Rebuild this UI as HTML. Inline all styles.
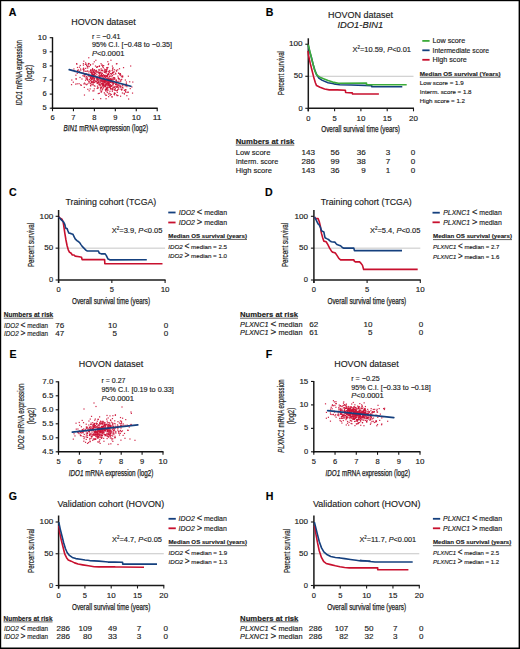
<!DOCTYPE html>
<html><head><meta charset="utf-8"><style>
html,body{margin:0;padding:0;background:#fff;}
svg{display:block;font-family:"Liberation Sans", sans-serif;}
text{stroke:#1b1b1b;stroke-width:0.15px;}
</style></head><body>
<svg width="520" height="649" viewBox="0 0 520 649" fill="#1b1b1b">
<rect x="0" y="0" width="520" height="649" fill="#fff"/>
<rect x="0" y="0" width="1.2" height="649" fill="#000"/>
<rect x="0" y="0" width="520" height="1.2" fill="#000"/>
<rect x="518.6" y="0" width="1.4" height="649" fill="#000"/>
<rect x="0" y="647.5" width="520" height="1.5" fill="#000"/>
<text x="8.80" y="15.80" font-size="10.6" font-weight="bold" fill="#000">A</text>
<text x="71.25" y="25.00" font-size="9" textLength="64.40" lengthAdjust="spacingAndGlyphs">HOVON dataset</text>
<text x="91.90" y="38.70" font-size="7" textLength="28.50" lengthAdjust="spacingAndGlyphs">r = −0.41</text>
<text x="91.90" y="46.90" font-size="7" textLength="80.00" lengthAdjust="spacingAndGlyphs">95% C.I. [−0.48 to −0.35]</text>
<text x="91.90" y="55.60" font-size="7" textLength="32.50" lengthAdjust="spacingAndGlyphs"><tspan font-style="italic">P</tspan>&lt;0.0001</text>
<line x1="52.50" y1="37.20" x2="52.50" y2="108.90" stroke="#111" stroke-width="1.4"/>
<line x1="51.80" y1="108.20" x2="157.70" y2="108.20" stroke="#111" stroke-width="1.4"/>
<line x1="49.70" y1="108.20" x2="52.50" y2="108.20" stroke="#111" stroke-width="1.1"/>
<text x="46.60" y="110.30" font-size="7" text-anchor="end" textLength="4.20" lengthAdjust="spacingAndGlyphs">5</text>
<line x1="49.70" y1="94.10" x2="52.50" y2="94.10" stroke="#111" stroke-width="1.1"/>
<text x="46.60" y="96.20" font-size="7" text-anchor="end" textLength="4.20" lengthAdjust="spacingAndGlyphs">6</text>
<line x1="49.70" y1="80.00" x2="52.50" y2="80.00" stroke="#111" stroke-width="1.1"/>
<text x="46.60" y="82.10" font-size="7" text-anchor="end" textLength="4.20" lengthAdjust="spacingAndGlyphs">7</text>
<line x1="49.70" y1="65.90" x2="52.50" y2="65.90" stroke="#111" stroke-width="1.1"/>
<text x="46.60" y="68.00" font-size="7" text-anchor="end" textLength="4.20" lengthAdjust="spacingAndGlyphs">8</text>
<line x1="49.70" y1="51.80" x2="52.50" y2="51.80" stroke="#111" stroke-width="1.1"/>
<text x="46.60" y="53.90" font-size="7" text-anchor="end" textLength="4.20" lengthAdjust="spacingAndGlyphs">9</text>
<line x1="49.70" y1="37.70" x2="52.50" y2="37.70" stroke="#111" stroke-width="1.1"/>
<text x="46.60" y="39.80" font-size="7" text-anchor="end" textLength="8.90" lengthAdjust="spacingAndGlyphs">10</text>
<line x1="52.50" y1="108.20" x2="52.50" y2="111.20" stroke="#111" stroke-width="1.1"/>
<text x="52.50" y="120.20" font-size="7" text-anchor="middle" textLength="4.20" lengthAdjust="spacingAndGlyphs">6</text>
<line x1="73.44" y1="108.20" x2="73.44" y2="111.20" stroke="#111" stroke-width="1.1"/>
<text x="73.44" y="120.20" font-size="7" text-anchor="middle" textLength="4.20" lengthAdjust="spacingAndGlyphs">7</text>
<line x1="94.38" y1="108.20" x2="94.38" y2="111.20" stroke="#111" stroke-width="1.1"/>
<text x="94.38" y="120.20" font-size="7" text-anchor="middle" textLength="4.20" lengthAdjust="spacingAndGlyphs">8</text>
<line x1="115.32" y1="108.20" x2="115.32" y2="111.20" stroke="#111" stroke-width="1.1"/>
<text x="115.32" y="120.20" font-size="7" text-anchor="middle" textLength="4.20" lengthAdjust="spacingAndGlyphs">9</text>
<line x1="136.26" y1="108.20" x2="136.26" y2="111.20" stroke="#111" stroke-width="1.1"/>
<text x="136.26" y="120.20" font-size="7" text-anchor="middle" textLength="8.90" lengthAdjust="spacingAndGlyphs">10</text>
<line x1="157.20" y1="108.20" x2="157.20" y2="111.20" stroke="#111" stroke-width="1.1"/>
<text x="157.20" y="120.20" font-size="7" text-anchor="middle" textLength="8.90" lengthAdjust="spacingAndGlyphs">11</text>
<text x="63.40" y="131.30" font-size="8.4" textLength="84.70" lengthAdjust="spacingAndGlyphs" style="stroke-width:0.25px"><tspan font-style="italic">BIN1</tspan> mRNA expression (log2)</text>
<text transform="translate(21.70,72.80) rotate(-90)" x="0" y="0" font-size="8.2" text-anchor="middle" style="stroke-width:0.2px" textLength="65.20" lengthAdjust="spacingAndGlyphs"><tspan font-style="italic">IDO1</tspan> mRNA expression</text>
<text transform="translate(32.00,73.10) rotate(-90)" x="0" y="0" font-size="8.2" text-anchor="middle" style="stroke-width:0.2px" textLength="16.20" lengthAdjust="spacingAndGlyphs">(log2)</text>
<g fill="#cc1236" fill-opacity="0.9"><rect x="110.00" y="87.95" width="1.2" height="1.2"/><rect x="92.73" y="75.02" width="1.2" height="1.2"/><rect x="99.53" y="78.05" width="1.2" height="1.2"/><rect x="107.32" y="81.76" width="1.2" height="1.2"/><rect x="105.38" y="75.95" width="1.2" height="1.2"/><rect x="84.82" y="63.79" width="1.2" height="1.2"/><rect x="70.94" y="84.05" width="1.2" height="1.2"/><rect x="107.08" y="76.35" width="1.2" height="1.2"/><rect x="108.09" y="83.88" width="1.2" height="1.2"/><rect x="109.34" y="90.65" width="1.2" height="1.2"/><rect x="89.75" y="82.95" width="1.2" height="1.2"/><rect x="108.07" y="81.91" width="1.2" height="1.2"/><rect x="91.14" y="79.01" width="1.2" height="1.2"/><rect x="90.74" y="77.77" width="1.2" height="1.2"/><rect x="99.00" y="72.12" width="1.2" height="1.2"/><rect x="73.32" y="68.39" width="1.2" height="1.2"/><rect x="92.85" y="98.77" width="1.2" height="1.2"/><rect x="87.17" y="79.71" width="1.2" height="1.2"/><rect x="99.47" y="78.22" width="1.2" height="1.2"/><rect x="103.89" y="68.58" width="1.2" height="1.2"/><rect x="93.72" y="88.27" width="1.2" height="1.2"/><rect x="88.43" y="70.75" width="1.2" height="1.2"/><rect x="115.69" y="79.30" width="1.2" height="1.2"/><rect x="120.40" y="88.53" width="1.2" height="1.2"/><rect x="125.54" y="84.48" width="1.2" height="1.2"/><rect x="90.76" y="81.56" width="1.2" height="1.2"/><rect x="96.28" y="78.11" width="1.2" height="1.2"/><rect x="116.71" y="86.44" width="1.2" height="1.2"/><rect x="102.53" y="84.85" width="1.2" height="1.2"/><rect x="114.31" y="86.48" width="1.2" height="1.2"/><rect x="119.54" y="73.32" width="1.2" height="1.2"/><rect x="99.74" y="86.59" width="1.2" height="1.2"/><rect x="119.26" y="73.52" width="1.2" height="1.2"/><rect x="105.32" y="83.55" width="1.2" height="1.2"/><rect x="88.60" y="75.92" width="1.2" height="1.2"/><rect x="111.75" y="81.58" width="1.2" height="1.2"/><rect x="78.89" y="66.60" width="1.2" height="1.2"/><rect x="82.48" y="72.41" width="1.2" height="1.2"/><rect x="127.61" y="91.59" width="1.2" height="1.2"/><rect x="118.12" y="72.68" width="1.2" height="1.2"/><rect x="98.49" y="79.49" width="1.2" height="1.2"/><rect x="106.70" y="81.24" width="1.2" height="1.2"/><rect x="106.69" y="84.67" width="1.2" height="1.2"/><rect x="107.54" y="80.29" width="1.2" height="1.2"/><rect x="100.85" y="79.50" width="1.2" height="1.2"/><rect x="96.23" y="74.16" width="1.2" height="1.2"/><rect x="96.72" y="81.99" width="1.2" height="1.2"/><rect x="118.89" y="68.12" width="1.2" height="1.2"/><rect x="96.31" y="77.61" width="1.2" height="1.2"/><rect x="97.92" y="81.58" width="1.2" height="1.2"/><rect x="103.82" y="80.80" width="1.2" height="1.2"/><rect x="94.40" y="75.92" width="1.2" height="1.2"/><rect x="117.46" y="84.68" width="1.2" height="1.2"/><rect x="114.98" y="72.65" width="1.2" height="1.2"/><rect x="98.19" y="80.43" width="1.2" height="1.2"/><rect x="77.84" y="69.35" width="1.2" height="1.2"/><rect x="105.16" y="90.34" width="1.2" height="1.2"/><rect x="115.97" y="70.62" width="1.2" height="1.2"/><rect x="101.74" y="72.82" width="1.2" height="1.2"/><rect x="100.24" y="79.89" width="1.2" height="1.2"/><rect x="100.92" y="83.02" width="1.2" height="1.2"/><rect x="115.47" y="80.01" width="1.2" height="1.2"/><rect x="103.59" y="83.41" width="1.2" height="1.2"/><rect x="105.95" y="87.83" width="1.2" height="1.2"/><rect x="110.07" y="73.02" width="1.2" height="1.2"/><rect x="104.01" y="76.03" width="1.2" height="1.2"/><rect x="120.77" y="76.12" width="1.2" height="1.2"/><rect x="93.43" y="77.19" width="1.2" height="1.2"/><rect x="89.55" y="88.30" width="1.2" height="1.2"/><rect x="90.80" y="80.85" width="1.2" height="1.2"/><rect x="101.01" y="73.55" width="1.2" height="1.2"/><rect x="113.73" y="92.44" width="1.2" height="1.2"/><rect x="116.57" y="95.00" width="1.2" height="1.2"/><rect x="95.02" y="70.51" width="1.2" height="1.2"/><rect x="103.84" y="80.31" width="1.2" height="1.2"/><rect x="91.99" y="67.94" width="1.2" height="1.2"/><rect x="75.63" y="78.43" width="1.2" height="1.2"/><rect x="104.70" y="85.62" width="1.2" height="1.2"/><rect x="103.11" y="86.97" width="1.2" height="1.2"/><rect x="97.59" y="79.13" width="1.2" height="1.2"/><rect x="92.70" y="83.54" width="1.2" height="1.2"/><rect x="113.14" y="76.92" width="1.2" height="1.2"/><rect x="84.61" y="73.99" width="1.2" height="1.2"/><rect x="115.74" y="83.54" width="1.2" height="1.2"/><rect x="118.48" y="83.50" width="1.2" height="1.2"/><rect x="85.92" y="76.03" width="1.2" height="1.2"/><rect x="94.38" y="85.59" width="1.2" height="1.2"/><rect x="103.66" y="75.42" width="1.2" height="1.2"/><rect x="102.49" y="85.57" width="1.2" height="1.2"/><rect x="83.88" y="73.39" width="1.2" height="1.2"/><rect x="113.91" y="77.34" width="1.2" height="1.2"/><rect x="85.11" y="73.89" width="1.2" height="1.2"/><rect x="85.37" y="77.31" width="1.2" height="1.2"/><rect x="120.44" y="79.17" width="1.2" height="1.2"/><rect x="111.44" y="79.07" width="1.2" height="1.2"/><rect x="124.77" y="79.43" width="1.2" height="1.2"/><rect x="109.40" y="85.23" width="1.2" height="1.2"/><rect x="102.61" y="81.27" width="1.2" height="1.2"/><rect x="108.03" y="63.23" width="1.2" height="1.2"/><rect x="99.17" y="69.50" width="1.2" height="1.2"/><rect x="119.82" y="73.16" width="1.2" height="1.2"/><rect x="111.05" y="79.47" width="1.2" height="1.2"/><rect x="125.92" y="84.26" width="1.2" height="1.2"/><rect x="91.02" y="78.81" width="1.2" height="1.2"/><rect x="105.03" y="84.51" width="1.2" height="1.2"/><rect x="118.13" y="84.43" width="1.2" height="1.2"/><rect x="113.52" y="82.74" width="1.2" height="1.2"/><rect x="97.15" y="77.25" width="1.2" height="1.2"/><rect x="110.35" y="59.65" width="1.2" height="1.2"/><rect x="102.11" y="80.50" width="1.2" height="1.2"/><rect x="101.43" y="82.95" width="1.2" height="1.2"/><rect x="121.97" y="76.13" width="1.2" height="1.2"/><rect x="114.30" y="92.86" width="1.2" height="1.2"/><rect x="100.48" y="74.98" width="1.2" height="1.2"/><rect x="98.26" y="71.99" width="1.2" height="1.2"/><rect x="114.19" y="78.90" width="1.2" height="1.2"/><rect x="123.64" y="92.79" width="1.2" height="1.2"/><rect x="108.82" y="75.67" width="1.2" height="1.2"/><rect x="79.95" y="68.39" width="1.2" height="1.2"/><rect x="109.96" y="86.21" width="1.2" height="1.2"/><rect x="106.52" y="82.25" width="1.2" height="1.2"/><rect x="104.72" y="84.43" width="1.2" height="1.2"/><rect x="102.84" y="74.11" width="1.2" height="1.2"/><rect x="107.44" y="87.11" width="1.2" height="1.2"/><rect x="102.39" y="79.94" width="1.2" height="1.2"/><rect x="93.52" y="74.82" width="1.2" height="1.2"/><rect x="107.82" y="78.80" width="1.2" height="1.2"/><rect x="87.03" y="78.74" width="1.2" height="1.2"/><rect x="88.97" y="81.38" width="1.2" height="1.2"/><rect x="113.75" y="81.13" width="1.2" height="1.2"/><rect x="96.89" y="66.11" width="1.2" height="1.2"/><rect x="99.62" y="80.41" width="1.2" height="1.2"/><rect x="115.72" y="86.69" width="1.2" height="1.2"/><rect x="104.36" y="81.56" width="1.2" height="1.2"/><rect x="115.17" y="73.41" width="1.2" height="1.2"/><rect x="102.77" y="83.94" width="1.2" height="1.2"/><rect x="109.84" y="88.40" width="1.2" height="1.2"/><rect x="125.79" y="81.43" width="1.2" height="1.2"/><rect x="102.10" y="79.03" width="1.2" height="1.2"/><rect x="90.27" y="76.74" width="1.2" height="1.2"/><rect x="101.36" y="78.60" width="1.2" height="1.2"/><rect x="110.06" y="84.18" width="1.2" height="1.2"/><rect x="109.97" y="81.66" width="1.2" height="1.2"/><rect x="91.44" y="72.21" width="1.2" height="1.2"/><rect x="89.83" y="64.56" width="1.2" height="1.2"/><rect x="92.54" y="80.93" width="1.2" height="1.2"/><rect x="114.22" y="92.78" width="1.2" height="1.2"/><rect x="125.19" y="89.31" width="1.2" height="1.2"/><rect x="86.03" y="64.85" width="1.2" height="1.2"/><rect x="112.13" y="89.24" width="1.2" height="1.2"/><rect x="113.86" y="69.16" width="1.2" height="1.2"/><rect x="76.05" y="63.00" width="1.2" height="1.2"/><rect x="98.76" y="72.33" width="1.2" height="1.2"/><rect x="108.09" y="84.61" width="1.2" height="1.2"/><rect x="108.29" y="73.97" width="1.2" height="1.2"/><rect x="87.09" y="65.89" width="1.2" height="1.2"/><rect x="124.69" y="85.22" width="1.2" height="1.2"/><rect x="84.53" y="73.88" width="1.2" height="1.2"/><rect x="121.04" y="89.37" width="1.2" height="1.2"/><rect x="108.70" y="82.70" width="1.2" height="1.2"/><rect x="108.08" y="93.44" width="1.2" height="1.2"/><rect x="88.23" y="75.38" width="1.2" height="1.2"/><rect x="92.43" y="63.33" width="1.2" height="1.2"/><rect x="98.78" y="75.33" width="1.2" height="1.2"/><rect x="101.98" y="88.58" width="1.2" height="1.2"/><rect x="100.90" y="78.11" width="1.2" height="1.2"/><rect x="100.57" y="87.21" width="1.2" height="1.2"/><rect x="97.01" y="71.34" width="1.2" height="1.2"/><rect x="86.62" y="76.67" width="1.2" height="1.2"/><rect x="107.10" y="77.72" width="1.2" height="1.2"/><rect x="104.56" y="78.88" width="1.2" height="1.2"/><rect x="116.32" y="63.06" width="1.2" height="1.2"/><rect x="101.24" y="84.21" width="1.2" height="1.2"/><rect x="106.42" y="90.54" width="1.2" height="1.2"/><rect x="77.01" y="69.83" width="1.2" height="1.2"/><rect x="106.97" y="73.73" width="1.2" height="1.2"/><rect x="99.37" y="72.35" width="1.2" height="1.2"/><rect x="99.17" y="78.19" width="1.2" height="1.2"/><rect x="91.04" y="76.17" width="1.2" height="1.2"/><rect x="107.63" y="84.53" width="1.2" height="1.2"/><rect x="102.68" y="78.68" width="1.2" height="1.2"/><rect x="105.75" y="76.27" width="1.2" height="1.2"/><rect x="95.24" y="59.68" width="1.2" height="1.2"/><rect x="95.19" y="81.22" width="1.2" height="1.2"/><rect x="90.83" y="71.63" width="1.2" height="1.2"/><rect x="101.69" y="81.27" width="1.2" height="1.2"/><rect x="106.14" y="75.71" width="1.2" height="1.2"/><rect x="102.44" y="85.40" width="1.2" height="1.2"/><rect x="106.85" y="87.51" width="1.2" height="1.2"/><rect x="119.43" y="73.47" width="1.2" height="1.2"/><rect x="127.76" y="75.60" width="1.2" height="1.2"/><rect x="101.53" y="76.08" width="1.2" height="1.2"/><rect x="79.41" y="76.88" width="1.2" height="1.2"/><rect x="101.37" y="81.17" width="1.2" height="1.2"/><rect x="112.22" y="88.24" width="1.2" height="1.2"/><rect x="97.36" y="86.84" width="1.2" height="1.2"/><rect x="101.05" y="90.56" width="1.2" height="1.2"/><rect x="92.66" y="74.17" width="1.2" height="1.2"/><rect x="105.63" y="83.22" width="1.2" height="1.2"/><rect x="92.22" y="76.26" width="1.2" height="1.2"/><rect x="116.03" y="82.38" width="1.2" height="1.2"/><rect x="103.79" y="81.70" width="1.2" height="1.2"/><rect x="107.98" y="82.78" width="1.2" height="1.2"/><rect x="82.73" y="68.33" width="1.2" height="1.2"/><rect x="89.66" y="79.90" width="1.2" height="1.2"/><rect x="93.02" y="81.60" width="1.2" height="1.2"/><rect x="97.71" y="92.97" width="1.2" height="1.2"/><rect x="87.75" y="74.77" width="1.2" height="1.2"/><rect x="104.50" y="85.88" width="1.2" height="1.2"/><rect x="93.27" y="80.24" width="1.2" height="1.2"/><rect x="117.12" y="69.24" width="1.2" height="1.2"/><rect x="116.23" y="84.51" width="1.2" height="1.2"/><rect x="83.47" y="75.62" width="1.2" height="1.2"/><rect x="83.94" y="82.47" width="1.2" height="1.2"/><rect x="122.94" y="67.03" width="1.2" height="1.2"/><rect x="106.43" y="82.16" width="1.2" height="1.2"/><rect x="88.16" y="57.16" width="1.2" height="1.2"/><rect x="87.63" y="63.70" width="1.2" height="1.2"/><rect x="98.51" y="77.10" width="1.2" height="1.2"/><rect x="105.46" y="98.15" width="1.2" height="1.2"/><rect x="99.90" y="82.30" width="1.2" height="1.2"/><rect x="91.85" y="69.10" width="1.2" height="1.2"/><rect x="112.29" y="84.67" width="1.2" height="1.2"/><rect x="94.57" y="80.58" width="1.2" height="1.2"/><rect x="112.94" y="82.20" width="1.2" height="1.2"/><rect x="119.74" y="80.55" width="1.2" height="1.2"/><rect x="91.97" y="77.02" width="1.2" height="1.2"/><rect x="115.99" y="80.30" width="1.2" height="1.2"/><rect x="112.85" y="82.67" width="1.2" height="1.2"/><rect x="92.64" y="79.33" width="1.2" height="1.2"/><rect x="110.37" y="78.37" width="1.2" height="1.2"/><rect x="96.69" y="82.64" width="1.2" height="1.2"/><rect x="109.54" y="94.78" width="1.2" height="1.2"/><rect x="92.62" y="76.09" width="1.2" height="1.2"/><rect x="92.29" y="90.31" width="1.2" height="1.2"/><rect x="105.11" y="89.51" width="1.2" height="1.2"/><rect x="112.43" y="79.54" width="1.2" height="1.2"/><rect x="103.96" y="85.40" width="1.2" height="1.2"/><rect x="109.05" y="79.23" width="1.2" height="1.2"/><rect x="108.00" y="96.04" width="1.2" height="1.2"/><rect x="105.40" y="80.38" width="1.2" height="1.2"/><rect x="117.34" y="75.58" width="1.2" height="1.2"/><rect x="131.28" y="86.40" width="1.2" height="1.2"/><rect x="110.69" y="93.94" width="1.2" height="1.2"/><rect x="120.46" y="86.20" width="1.2" height="1.2"/><rect x="95.85" y="80.93" width="1.2" height="1.2"/><rect x="109.67" y="80.95" width="1.2" height="1.2"/><rect x="106.83" y="79.26" width="1.2" height="1.2"/><rect x="105.50" y="87.21" width="1.2" height="1.2"/><rect x="108.20" y="72.57" width="1.2" height="1.2"/><rect x="92.50" y="77.18" width="1.2" height="1.2"/><rect x="106.56" y="87.38" width="1.2" height="1.2"/><rect x="114.99" y="83.91" width="1.2" height="1.2"/><rect x="102.78" y="76.64" width="1.2" height="1.2"/><rect x="121.04" y="89.05" width="1.2" height="1.2"/><rect x="102.02" y="66.09" width="1.2" height="1.2"/><rect x="98.75" y="92.71" width="1.2" height="1.2"/><rect x="100.65" y="91.49" width="1.2" height="1.2"/><rect x="102.26" y="79.37" width="1.2" height="1.2"/><rect x="117.70" y="77.17" width="1.2" height="1.2"/><rect x="111.40" y="82.24" width="1.2" height="1.2"/><rect x="132.20" y="81.46" width="1.2" height="1.2"/><rect x="102.33" y="85.18" width="1.2" height="1.2"/><rect x="109.53" y="78.54" width="1.2" height="1.2"/><rect x="100.46" y="63.07" width="1.2" height="1.2"/><rect x="92.35" y="71.60" width="1.2" height="1.2"/><rect x="90.67" y="83.65" width="1.2" height="1.2"/><rect x="107.28" y="89.61" width="1.2" height="1.2"/><rect x="104.56" y="80.10" width="1.2" height="1.2"/><rect x="83.86" y="94.44" width="1.2" height="1.2"/><rect x="112.15" y="81.04" width="1.2" height="1.2"/><rect x="111.07" y="85.21" width="1.2" height="1.2"/><rect x="92.43" y="78.18" width="1.2" height="1.2"/><rect x="86.67" y="66.18" width="1.2" height="1.2"/><rect x="112.95" y="71.75" width="1.2" height="1.2"/><rect x="106.45" y="75.82" width="1.2" height="1.2"/><rect x="85.90" y="84.12" width="1.2" height="1.2"/><rect x="102.51" y="83.39" width="1.2" height="1.2"/><rect x="111.21" y="76.09" width="1.2" height="1.2"/><rect x="76.59" y="83.21" width="1.2" height="1.2"/><rect x="105.05" y="94.51" width="1.2" height="1.2"/><rect x="108.18" y="80.24" width="1.2" height="1.2"/><rect x="112.45" y="67.27" width="1.2" height="1.2"/><rect x="112.46" y="83.34" width="1.2" height="1.2"/><rect x="111.34" y="96.14" width="1.2" height="1.2"/><rect x="113.29" y="78.46" width="1.2" height="1.2"/><rect x="91.77" y="78.04" width="1.2" height="1.2"/><rect x="107.96" y="79.09" width="1.2" height="1.2"/><rect x="95.02" y="72.95" width="1.2" height="1.2"/><rect x="106.22" y="83.05" width="1.2" height="1.2"/><rect x="90.15" y="70.55" width="1.2" height="1.2"/><rect x="110.37" y="81.43" width="1.2" height="1.2"/><rect x="106.68" y="86.61" width="1.2" height="1.2"/><rect x="105.58" y="72.57" width="1.2" height="1.2"/><rect x="109.64" y="84.40" width="1.2" height="1.2"/><rect x="98.35" y="75.04" width="1.2" height="1.2"/><rect x="98.81" y="72.19" width="1.2" height="1.2"/><rect x="93.29" y="90.19" width="1.2" height="1.2"/><rect x="93.47" y="74.22" width="1.2" height="1.2"/><rect x="130.07" y="65.41" width="1.2" height="1.2"/><rect x="107.12" y="89.24" width="1.2" height="1.2"/><rect x="121.72" y="84.59" width="1.2" height="1.2"/><rect x="107.85" y="72.76" width="1.2" height="1.2"/><rect x="94.06" y="77.84" width="1.2" height="1.2"/><rect x="88.30" y="72.39" width="1.2" height="1.2"/><rect x="117.15" y="88.99" width="1.2" height="1.2"/><rect x="96.56" y="77.23" width="1.2" height="1.2"/><rect x="78.92" y="70.77" width="1.2" height="1.2"/><rect x="83.64" y="74.48" width="1.2" height="1.2"/><rect x="104.51" y="83.53" width="1.2" height="1.2"/><rect x="116.55" y="81.27" width="1.2" height="1.2"/><rect x="110.35" y="78.41" width="1.2" height="1.2"/><rect x="82.80" y="63.05" width="1.2" height="1.2"/><rect x="103.82" y="75.18" width="1.2" height="1.2"/><rect x="115.74" y="69.75" width="1.2" height="1.2"/><rect x="104.20" y="85.27" width="1.2" height="1.2"/><rect x="96.89" y="80.24" width="1.2" height="1.2"/><rect x="98.91" y="65.44" width="1.2" height="1.2"/><rect x="86.23" y="70.72" width="1.2" height="1.2"/><rect x="104.76" y="77.01" width="1.2" height="1.2"/><rect x="83.12" y="70.11" width="1.2" height="1.2"/><rect x="90.36" y="79.43" width="1.2" height="1.2"/><rect x="93.89" y="69.06" width="1.2" height="1.2"/><rect x="119.53" y="85.20" width="1.2" height="1.2"/><rect x="104.36" y="93.38" width="1.2" height="1.2"/><rect x="93.63" y="77.88" width="1.2" height="1.2"/><rect x="107.51" y="82.98" width="1.2" height="1.2"/><rect x="113.69" y="86.80" width="1.2" height="1.2"/><rect x="119.56" y="86.51" width="1.2" height="1.2"/><rect x="100.53" y="68.15" width="1.2" height="1.2"/><rect x="116.31" y="85.92" width="1.2" height="1.2"/><rect x="107.03" y="79.17" width="1.2" height="1.2"/><rect x="122.63" y="84.04" width="1.2" height="1.2"/><rect x="129.13" y="81.18" width="1.2" height="1.2"/><rect x="107.35" y="66.91" width="1.2" height="1.2"/><rect x="92.06" y="84.15" width="1.2" height="1.2"/><rect x="108.13" y="77.56" width="1.2" height="1.2"/><rect x="111.53" y="89.01" width="1.2" height="1.2"/><rect x="104.92" y="85.80" width="1.2" height="1.2"/><rect x="100.74" y="80.50" width="1.2" height="1.2"/><rect x="113.55" y="93.74" width="1.2" height="1.2"/><rect x="108.40" y="77.46" width="1.2" height="1.2"/><rect x="113.90" y="88.72" width="1.2" height="1.2"/><rect x="83.74" y="86.79" width="1.2" height="1.2"/><rect x="76.22" y="63.60" width="1.2" height="1.2"/><rect x="115.04" y="81.94" width="1.2" height="1.2"/><rect x="104.48" y="75.01" width="1.2" height="1.2"/><rect x="90.33" y="72.00" width="1.2" height="1.2"/><rect x="93.98" y="78.45" width="1.2" height="1.2"/><rect x="124.43" y="89.41" width="1.2" height="1.2"/><rect x="83.23" y="60.61" width="1.2" height="1.2"/><rect x="95.95" y="71.04" width="1.2" height="1.2"/><rect x="107.39" y="80.96" width="1.2" height="1.2"/><rect x="86.63" y="78.73" width="1.2" height="1.2"/><rect x="108.45" y="84.90" width="1.2" height="1.2"/><rect x="103.29" y="79.22" width="1.2" height="1.2"/><rect x="109.02" y="84.15" width="1.2" height="1.2"/><rect x="90.40" y="71.69" width="1.2" height="1.2"/><rect x="94.00" y="71.90" width="1.2" height="1.2"/><rect x="108.58" y="78.85" width="1.2" height="1.2"/><rect x="112.95" y="86.55" width="1.2" height="1.2"/><rect x="104.94" y="71.39" width="1.2" height="1.2"/><rect x="115.29" y="83.00" width="1.2" height="1.2"/><rect x="90.14" y="85.19" width="1.2" height="1.2"/><rect x="121.12" y="78.79" width="1.2" height="1.2"/><rect x="104.61" y="78.48" width="1.2" height="1.2"/><rect x="93.57" y="79.90" width="1.2" height="1.2"/><rect x="102.66" y="78.05" width="1.2" height="1.2"/><rect x="108.84" y="78.98" width="1.2" height="1.2"/><rect x="92.78" y="71.87" width="1.2" height="1.2"/><rect x="105.40" y="75.00" width="1.2" height="1.2"/><rect x="101.38" y="80.41" width="1.2" height="1.2"/><rect x="106.47" y="67.20" width="1.2" height="1.2"/><rect x="110.70" y="73.00" width="1.2" height="1.2"/><rect x="101.58" y="69.64" width="1.2" height="1.2"/><rect x="107.55" y="82.94" width="1.2" height="1.2"/><rect x="93.55" y="85.00" width="1.2" height="1.2"/><rect x="113.49" y="71.15" width="1.2" height="1.2"/><rect x="91.90" y="73.96" width="1.2" height="1.2"/><rect x="91.18" y="74.93" width="1.2" height="1.2"/><rect x="110.91" y="79.94" width="1.2" height="1.2"/><rect x="112.04" y="82.11" width="1.2" height="1.2"/><rect x="101.44" y="64.36" width="1.2" height="1.2"/><rect x="88.59" y="90.22" width="1.2" height="1.2"/><rect x="103.73" y="92.19" width="1.2" height="1.2"/><rect x="94.89" y="65.45" width="1.2" height="1.2"/><rect x="75.28" y="74.58" width="1.2" height="1.2"/><rect x="110.76" y="74.25" width="1.2" height="1.2"/><rect x="91.21" y="72.85" width="1.2" height="1.2"/><rect x="99.40" y="76.42" width="1.2" height="1.2"/><rect x="104.19" y="80.90" width="1.2" height="1.2"/><rect x="109.85" y="78.55" width="1.2" height="1.2"/><rect x="104.98" y="79.91" width="1.2" height="1.2"/><rect x="87.53" y="65.38" width="1.2" height="1.2"/><rect x="117.66" y="87.45" width="1.2" height="1.2"/><rect x="109.24" y="70.73" width="1.2" height="1.2"/><rect x="125.36" y="91.78" width="1.2" height="1.2"/><rect x="107.98" y="79.06" width="1.2" height="1.2"/><rect x="104.21" y="80.41" width="1.2" height="1.2"/><rect x="109.12" y="69.89" width="1.2" height="1.2"/><rect x="94.35" y="71.73" width="1.2" height="1.2"/><rect x="114.74" y="88.00" width="1.2" height="1.2"/><rect x="97.81" y="83.32" width="1.2" height="1.2"/><rect x="102.04" y="83.64" width="1.2" height="1.2"/><rect x="93.82" y="81.94" width="1.2" height="1.2"/><rect x="74.22" y="70.91" width="1.2" height="1.2"/><rect x="115.03" y="83.96" width="1.2" height="1.2"/><rect x="104.06" y="71.81" width="1.2" height="1.2"/><rect x="92.60" y="74.89" width="1.2" height="1.2"/><rect x="121.82" y="92.40" width="1.2" height="1.2"/><rect x="108.43" y="80.56" width="1.2" height="1.2"/><rect x="103.55" y="79.10" width="1.2" height="1.2"/><rect x="76.66" y="72.74" width="1.2" height="1.2"/><rect x="92.81" y="76.50" width="1.2" height="1.2"/><rect x="100.10" y="98.04" width="1.2" height="1.2"/><rect x="105.46" y="88.71" width="1.2" height="1.2"/><rect x="116.07" y="90.07" width="1.2" height="1.2"/><rect x="105.67" y="70.86" width="1.2" height="1.2"/><rect x="93.01" y="70.79" width="1.2" height="1.2"/><rect x="78.46" y="83.10" width="1.2" height="1.2"/><rect x="103.95" y="78.45" width="1.2" height="1.2"/><rect x="100.55" y="91.14" width="1.2" height="1.2"/><rect x="80.65" y="84.80" width="1.2" height="1.2"/><rect x="89.98" y="77.33" width="1.2" height="1.2"/><rect x="102.74" y="67.10" width="1.2" height="1.2"/><rect x="99.60" y="81.20" width="1.2" height="1.2"/><rect x="89.93" y="63.97" width="1.2" height="1.2"/><rect x="85.80" y="78.26" width="1.2" height="1.2"/><rect x="112.15" y="88.07" width="1.2" height="1.2"/><rect x="103.02" y="84.43" width="1.2" height="1.2"/><rect x="96.59" y="66.38" width="1.2" height="1.2"/><rect x="106.17" y="83.64" width="1.2" height="1.2"/><rect x="96.30" y="76.76" width="1.2" height="1.2"/><rect x="111.49" y="96.34" width="1.2" height="1.2"/><rect x="128.02" y="98.43" width="1.2" height="1.2"/><rect x="80.10" y="84.22" width="1.2" height="1.2"/><rect x="100.78" y="69.70" width="1.2" height="1.2"/><rect x="99.20" y="75.88" width="1.2" height="1.2"/><rect x="100.31" y="79.34" width="1.2" height="1.2"/><rect x="105.92" y="71.02" width="1.2" height="1.2"/><rect x="91.55" y="69.17" width="1.2" height="1.2"/><rect x="93.98" y="72.96" width="1.2" height="1.2"/><rect x="113.47" y="77.11" width="1.2" height="1.2"/><rect x="102.31" y="70.25" width="1.2" height="1.2"/><rect x="98.68" y="65.85" width="1.2" height="1.2"/><rect x="93.69" y="61.20" width="1.2" height="1.2"/><rect x="92.40" y="69.15" width="1.2" height="1.2"/><rect x="99.13" y="76.07" width="1.2" height="1.2"/><rect x="106.38" y="67.21" width="1.2" height="1.2"/><rect x="102.39" y="87.56" width="1.2" height="1.2"/><rect x="91.70" y="70.16" width="1.2" height="1.2"/><rect x="109.58" y="78.61" width="1.2" height="1.2"/><rect x="104.58" y="71.43" width="1.2" height="1.2"/><rect x="105.83" y="79.46" width="1.2" height="1.2"/><rect x="113.96" y="94.22" width="1.2" height="1.2"/><rect x="95.78" y="76.65" width="1.2" height="1.2"/><rect x="80.21" y="69.56" width="1.2" height="1.2"/><rect x="85.01" y="62.30" width="1.2" height="1.2"/><rect x="72.72" y="81.60" width="1.2" height="1.2"/><rect x="98.24" y="72.34" width="1.2" height="1.2"/><rect x="109.14" y="82.38" width="1.2" height="1.2"/><rect x="111.72" y="81.93" width="1.2" height="1.2"/><rect x="98.10" y="70.46" width="1.2" height="1.2"/><rect x="104.76" y="89.18" width="1.2" height="1.2"/><rect x="92.40" y="75.22" width="1.2" height="1.2"/><rect x="94.64" y="80.38" width="1.2" height="1.2"/><rect x="105.12" y="68.97" width="1.2" height="1.2"/><rect x="84.19" y="76.03" width="1.2" height="1.2"/><rect x="110.56" y="79.86" width="1.2" height="1.2"/><rect x="112.01" y="67.70" width="1.2" height="1.2"/><rect x="97.39" y="87.55" width="1.2" height="1.2"/><rect x="106.62" y="75.23" width="1.2" height="1.2"/><rect x="100.87" y="86.45" width="1.2" height="1.2"/><rect x="96.44" y="79.00" width="1.2" height="1.2"/><rect x="100.91" y="73.75" width="1.2" height="1.2"/><rect x="98.60" y="84.31" width="1.2" height="1.2"/><rect x="88.62" y="65.98" width="1.2" height="1.2"/><rect x="118.29" y="78.14" width="1.2" height="1.2"/><rect x="111.57" y="69.98" width="1.2" height="1.2"/><rect x="117.35" y="94.95" width="1.2" height="1.2"/><rect x="104.29" y="79.53" width="1.2" height="1.2"/><rect x="96.30" y="72.06" width="1.2" height="1.2"/><rect x="106.49" y="83.39" width="1.2" height="1.2"/><rect x="97.67" y="81.53" width="1.2" height="1.2"/><rect x="104.36" y="74.60" width="1.2" height="1.2"/><rect x="82.84" y="64.56" width="1.2" height="1.2"/><rect x="119.66" y="74.58" width="1.2" height="1.2"/><rect x="108.62" y="92.57" width="1.2" height="1.2"/><rect x="101.61" y="69.83" width="1.2" height="1.2"/><rect x="91.75" y="73.83" width="1.2" height="1.2"/><rect x="109.10" y="86.03" width="1.2" height="1.2"/><rect x="96.72" y="78.05" width="1.2" height="1.2"/><rect x="84.42" y="74.16" width="1.2" height="1.2"/><rect x="126.28" y="86.00" width="1.2" height="1.2"/><rect x="82.67" y="68.90" width="1.2" height="1.2"/><rect x="91.77" y="82.11" width="1.2" height="1.2"/><rect x="118.20" y="88.52" width="1.2" height="1.2"/><rect x="119.23" y="85.46" width="1.2" height="1.2"/><rect x="112.55" y="78.56" width="1.2" height="1.2"/><rect x="85.81" y="73.79" width="1.2" height="1.2"/><rect x="121.80" y="86.91" width="1.2" height="1.2"/><rect x="87.23" y="88.73" width="1.2" height="1.2"/><rect x="89.87" y="76.67" width="1.2" height="1.2"/><rect x="105.66" y="88.33" width="1.2" height="1.2"/><rect x="76.91" y="66.87" width="1.2" height="1.2"/><rect x="106.68" y="74.72" width="1.2" height="1.2"/><rect x="100.07" y="87.98" width="1.2" height="1.2"/><rect x="87.96" y="62.93" width="1.2" height="1.2"/><rect x="98.81" y="82.50" width="1.2" height="1.2"/><rect x="85.66" y="63.55" width="1.2" height="1.2"/><rect x="98.70" y="65.71" width="1.2" height="1.2"/><rect x="112.43" y="83.75" width="1.2" height="1.2"/><rect x="109.86" y="93.37" width="1.2" height="1.2"/><rect x="88.49" y="62.95" width="1.2" height="1.2"/><rect x="87.13" y="67.40" width="1.2" height="1.2"/><rect x="95.97" y="66.68" width="1.2" height="1.2"/><rect x="106.72" y="91.96" width="1.2" height="1.2"/><rect x="102.86" y="75.22" width="1.2" height="1.2"/><rect x="117.48" y="85.33" width="1.2" height="1.2"/><rect x="94.67" y="70.25" width="1.2" height="1.2"/><rect x="106.05" y="69.56" width="1.2" height="1.2"/><rect x="98.91" y="83.84" width="1.2" height="1.2"/><rect x="88.90" y="78.85" width="1.2" height="1.2"/><rect x="117.60" y="86.60" width="1.2" height="1.2"/><rect x="114.41" y="89.50" width="1.2" height="1.2"/><rect x="114.23" y="77.70" width="1.2" height="1.2"/><rect x="91.84" y="81.23" width="1.2" height="1.2"/><rect x="116.46" y="81.57" width="1.2" height="1.2"/><rect x="116.77" y="89.88" width="1.2" height="1.2"/><rect x="103.32" y="80.01" width="1.2" height="1.2"/><rect x="100.26" y="75.55" width="1.2" height="1.2"/><rect x="123.80" y="93.44" width="1.2" height="1.2"/><rect x="116.62" y="83.80" width="1.2" height="1.2"/><rect x="101.71" y="74.91" width="1.2" height="1.2"/><rect x="104.53" y="70.19" width="1.2" height="1.2"/><rect x="101.63" y="75.26" width="1.2" height="1.2"/><rect x="98.34" y="68.94" width="1.2" height="1.2"/><rect x="104.54" y="79.58" width="1.2" height="1.2"/><rect x="104.49" y="76.40" width="1.2" height="1.2"/><rect x="101.59" y="75.13" width="1.2" height="1.2"/><rect x="97.35" y="77.78" width="1.2" height="1.2"/><rect x="92.44" y="73.32" width="1.2" height="1.2"/><rect x="116.07" y="94.23" width="1.2" height="1.2"/><rect x="93.41" y="69.86" width="1.2" height="1.2"/><rect x="83.30" y="83.28" width="1.2" height="1.2"/><rect x="105.88" y="69.42" width="1.2" height="1.2"/><rect x="124.91" y="90.94" width="1.2" height="1.2"/><rect x="107.64" y="73.76" width="1.2" height="1.2"/><rect x="125.69" y="82.99" width="1.2" height="1.2"/><rect x="96.90" y="85.56" width="1.2" height="1.2"/><rect x="86.72" y="83.44" width="1.2" height="1.2"/><rect x="120.38" y="74.66" width="1.2" height="1.2"/><rect x="109.41" y="80.84" width="1.2" height="1.2"/><rect x="79.68" y="64.90" width="1.2" height="1.2"/><rect x="125.17" y="89.15" width="1.2" height="1.2"/><rect x="113.31" y="73.88" width="1.2" height="1.2"/><rect x="112.07" y="72.84" width="1.2" height="1.2"/><rect x="112.26" y="77.63" width="1.2" height="1.2"/><rect x="84.87" y="70.66" width="1.2" height="1.2"/><rect x="102.42" y="65.14" width="1.2" height="1.2"/><rect x="90.16" y="70.03" width="1.2" height="1.2"/><rect x="104.98" y="85.69" width="1.2" height="1.2"/><rect x="105.98" y="71.02" width="1.2" height="1.2"/><rect x="107.77" y="70.77" width="1.2" height="1.2"/><rect x="82.95" y="67.58" width="1.2" height="1.2"/><rect x="86.13" y="73.22" width="1.2" height="1.2"/><rect x="105.44" y="84.72" width="1.2" height="1.2"/><rect x="99.41" y="72.72" width="1.2" height="1.2"/><rect x="88.15" y="80.78" width="1.2" height="1.2"/><rect x="131.93" y="92.50" width="1.2" height="1.2"/><rect x="112.39" y="86.80" width="1.2" height="1.2"/><rect x="111.75" y="90.67" width="1.2" height="1.2"/><rect x="100.30" y="78.18" width="1.2" height="1.2"/><rect x="120.37" y="83.03" width="1.2" height="1.2"/><rect x="92.14" y="73.50" width="1.2" height="1.2"/><rect x="71.18" y="79.43" width="1.2" height="1.2"/><rect x="115.85" y="63.26" width="1.2" height="1.2"/><rect x="108.24" y="81.42" width="1.2" height="1.2"/><rect x="104.91" y="80.54" width="1.2" height="1.2"/><rect x="111.89" y="74.83" width="1.2" height="1.2"/><rect x="106.23" y="78.32" width="1.2" height="1.2"/><rect x="96.57" y="79.83" width="1.2" height="1.2"/><rect x="101.56" y="89.30" width="1.2" height="1.2"/><rect x="120.27" y="80.40" width="1.2" height="1.2"/><rect x="96.59" y="78.45" width="1.2" height="1.2"/><rect x="111.22" y="80.98" width="1.2" height="1.2"/><rect x="102.04" y="84.33" width="1.2" height="1.2"/><rect x="122.01" y="75.33" width="1.2" height="1.2"/><rect x="105.60" y="70.67" width="1.2" height="1.2"/><rect x="106.61" y="79.78" width="1.2" height="1.2"/><rect x="103.06" y="65.02" width="1.2" height="1.2"/><rect x="96.57" y="87.85" width="1.2" height="1.2"/><rect x="111.10" y="85.74" width="1.2" height="1.2"/><rect x="109.71" y="85.66" width="1.2" height="1.2"/><rect x="102.76" y="82.29" width="1.2" height="1.2"/><rect x="122.16" y="85.27" width="1.2" height="1.2"/><rect x="122.45" y="87.37" width="1.2" height="1.2"/><rect x="118.90" y="78.55" width="1.2" height="1.2"/><rect x="111.07" y="88.15" width="1.2" height="1.2"/><rect x="117.95" y="78.16" width="1.2" height="1.2"/><rect x="89.83" y="77.72" width="1.2" height="1.2"/><rect x="82.29" y="75.10" width="1.2" height="1.2"/><rect x="102.94" y="81.04" width="1.2" height="1.2"/><rect x="94.78" y="75.32" width="1.2" height="1.2"/><rect x="100.87" y="86.94" width="1.2" height="1.2"/><rect x="99.77" y="89.45" width="1.2" height="1.2"/><rect x="107.55" y="86.29" width="1.2" height="1.2"/><rect x="106.03" y="78.21" width="1.2" height="1.2"/><rect x="127.20" y="91.72" width="1.2" height="1.2"/><rect x="105.83" y="88.95" width="1.2" height="1.2"/><rect x="102.06" y="82.79" width="1.2" height="1.2"/><rect x="110.83" y="85.10" width="1.2" height="1.2"/><rect x="121.18" y="88.67" width="1.2" height="1.2"/><rect x="104.00" y="79.19" width="1.2" height="1.2"/><rect x="98.11" y="81.56" width="1.2" height="1.2"/><rect x="107.82" y="74.05" width="1.2" height="1.2"/><rect x="81.35" y="78.40" width="1.2" height="1.2"/><rect x="97.29" y="76.12" width="1.2" height="1.2"/><rect x="104.21" y="70.10" width="1.2" height="1.2"/><rect x="105.77" y="81.02" width="1.2" height="1.2"/><rect x="90.85" y="75.97" width="1.2" height="1.2"/><rect x="90.00" y="69.50" width="1.2" height="1.2"/><rect x="93.98" y="73.87" width="1.2" height="1.2"/><rect x="101.25" y="72.54" width="1.2" height="1.2"/><rect x="123.78" y="89.81" width="1.2" height="1.2"/><rect x="112.20" y="71.60" width="1.2" height="1.2"/><rect x="129.65" y="88.01" width="1.2" height="1.2"/><rect x="109.21" y="76.06" width="1.2" height="1.2"/><rect x="106.61" y="75.09" width="1.2" height="1.2"/><rect x="92.76" y="82.08" width="1.2" height="1.2"/><rect x="91.19" y="75.07" width="1.2" height="1.2"/><rect x="116.73" y="91.76" width="1.2" height="1.2"/><rect x="109.68" y="75.43" width="1.2" height="1.2"/><rect x="84.70" y="83.45" width="1.2" height="1.2"/><rect x="117.94" y="72.53" width="1.2" height="1.2"/><rect x="84.71" y="73.28" width="1.2" height="1.2"/><rect x="104.12" y="81.88" width="1.2" height="1.2"/><rect x="103.31" y="77.81" width="1.2" height="1.2"/><rect x="100.24" y="74.60" width="1.2" height="1.2"/><rect x="91.35" y="71.36" width="1.2" height="1.2"/><rect x="100.43" y="74.69" width="1.2" height="1.2"/><rect x="101.50" y="76.20" width="1.2" height="1.2"/><rect x="90.16" y="75.88" width="1.2" height="1.2"/><rect x="108.99" y="84.88" width="1.2" height="1.2"/><rect x="85.09" y="67.79" width="1.2" height="1.2"/><rect x="86.95" y="70.38" width="1.2" height="1.2"/><rect x="112.12" y="69.10" width="1.2" height="1.2"/><rect x="84.94" y="79.63" width="1.2" height="1.2"/><rect x="75.15" y="83.52" width="1.2" height="1.2"/><rect x="96.75" y="82.57" width="1.2" height="1.2"/><rect x="75.46" y="78.22" width="1.2" height="1.2"/><rect x="121.95" y="76.28" width="1.2" height="1.2"/><rect x="116.61" y="86.02" width="1.2" height="1.2"/><rect x="111.05" y="78.73" width="1.2" height="1.2"/><rect x="93.16" y="70.59" width="1.2" height="1.2"/><rect x="114.45" y="85.86" width="1.2" height="1.2"/><rect x="109.17" y="81.32" width="1.2" height="1.2"/><rect x="107.27" y="61.09" width="1.2" height="1.2"/><rect x="111.82" y="65.48" width="1.2" height="1.2"/><rect x="119.85" y="86.14" width="1.2" height="1.2"/><rect x="98.79" y="73.65" width="1.2" height="1.2"/><rect x="117.85" y="77.81" width="1.2" height="1.2"/><rect x="91.40" y="75.13" width="1.2" height="1.2"/><rect x="99.52" y="84.97" width="1.2" height="1.2"/><rect x="114.58" y="89.79" width="1.2" height="1.2"/><rect x="91.03" y="75.27" width="1.2" height="1.2"/><rect x="94.40" y="75.75" width="1.2" height="1.2"/><rect x="107.48" y="83.91" width="1.2" height="1.2"/><rect x="99.83" y="84.19" width="1.2" height="1.2"/><rect x="83.34" y="70.49" width="1.2" height="1.2"/><rect x="83.47" y="68.68" width="1.2" height="1.2"/><rect x="99.55" y="71.73" width="1.2" height="1.2"/><rect x="90.07" y="69.53" width="1.2" height="1.2"/><rect x="102.71" y="83.18" width="1.2" height="1.2"/><rect x="88.17" y="82.39" width="1.2" height="1.2"/><rect x="89.97" y="84.99" width="1.2" height="1.2"/><rect x="91.07" y="73.43" width="1.2" height="1.2"/><rect x="109.89" y="80.53" width="1.2" height="1.2"/><rect x="104.92" y="82.16" width="1.2" height="1.2"/><rect x="97.60" y="78.69" width="1.2" height="1.2"/><rect x="86.64" y="78.22" width="1.2" height="1.2"/><rect x="105.93" y="94.70" width="1.2" height="1.2"/><rect x="108.78" y="86.80" width="1.2" height="1.2"/><rect x="95.90" y="69.81" width="1.2" height="1.2"/><rect x="108.91" y="71.68" width="1.2" height="1.2"/><rect x="101.37" y="64.70" width="1.2" height="1.2"/><rect x="106.66" y="67.41" width="1.2" height="1.2"/><rect x="119.98" y="95.62" width="1.2" height="1.2"/><rect x="103.57" y="71.37" width="1.2" height="1.2"/><rect x="118.20" y="80.67" width="1.2" height="1.2"/><rect x="107.72" y="63.96" width="1.2" height="1.2"/><rect x="90.88" y="82.01" width="1.2" height="1.2"/><rect x="100.38" y="71.58" width="1.2" height="1.2"/><rect x="92.77" y="74.31" width="1.2" height="1.2"/><rect x="106.43" y="68.74" width="1.2" height="1.2"/><rect x="93.75" y="78.38" width="1.2" height="1.2"/><rect x="109.60" y="86.99" width="1.2" height="1.2"/><rect x="126.26" y="95.08" width="1.2" height="1.2"/><rect x="111.89" y="72.02" width="1.2" height="1.2"/><rect x="106.12" y="88.25" width="1.2" height="1.2"/></g>
<line x1="69.20" y1="69.60" x2="130.80" y2="86.20" stroke="#15407e" stroke-width="1.7" stroke-linecap="round"/>
<text x="9.60" y="358.00" font-size="10.6" font-weight="bold" fill="#000">E</text>
<text x="78.75" y="367.00" font-size="9" textLength="64.40" lengthAdjust="spacingAndGlyphs">HOVON dataset</text>
<text x="101.50" y="383.30" font-size="7" textLength="24.00" lengthAdjust="spacingAndGlyphs">r = 0.27</text>
<text x="101.50" y="391.50" font-size="7" textLength="72.30" lengthAdjust="spacingAndGlyphs">95% C.I. [0.19 to 0.33]</text>
<text x="101.50" y="400.80" font-size="7" textLength="32.50" lengthAdjust="spacingAndGlyphs"><tspan font-style="italic">P</tspan>&lt;0.0001</text>
<line x1="58.50" y1="381.30" x2="58.50" y2="452.50" stroke="#111" stroke-width="1.4"/>
<line x1="57.80" y1="451.80" x2="163.50" y2="451.80" stroke="#111" stroke-width="1.4"/>
<line x1="55.70" y1="451.80" x2="58.50" y2="451.80" stroke="#111" stroke-width="1.1"/>
<text x="53.30" y="453.90" font-size="7" text-anchor="end" textLength="11.00" lengthAdjust="spacingAndGlyphs">4.5</text>
<line x1="55.70" y1="437.80" x2="58.50" y2="437.80" stroke="#111" stroke-width="1.1"/>
<text x="53.30" y="439.90" font-size="7" text-anchor="end" textLength="11.00" lengthAdjust="spacingAndGlyphs">5.0</text>
<line x1="55.70" y1="423.80" x2="58.50" y2="423.80" stroke="#111" stroke-width="1.1"/>
<text x="53.30" y="425.90" font-size="7" text-anchor="end" textLength="11.00" lengthAdjust="spacingAndGlyphs">5.5</text>
<line x1="55.70" y1="409.80" x2="58.50" y2="409.80" stroke="#111" stroke-width="1.1"/>
<text x="53.30" y="411.90" font-size="7" text-anchor="end" textLength="11.00" lengthAdjust="spacingAndGlyphs">6.0</text>
<line x1="55.70" y1="395.80" x2="58.50" y2="395.80" stroke="#111" stroke-width="1.1"/>
<text x="53.30" y="397.90" font-size="7" text-anchor="end" textLength="11.00" lengthAdjust="spacingAndGlyphs">6.5</text>
<line x1="55.70" y1="381.80" x2="58.50" y2="381.80" stroke="#111" stroke-width="1.1"/>
<text x="53.30" y="383.90" font-size="7" text-anchor="end" textLength="11.00" lengthAdjust="spacingAndGlyphs">7.0</text>
<line x1="58.50" y1="451.80" x2="58.50" y2="454.80" stroke="#111" stroke-width="1.1"/>
<text x="58.50" y="463.60" font-size="7" text-anchor="middle" textLength="4.20" lengthAdjust="spacingAndGlyphs">5</text>
<line x1="79.40" y1="451.80" x2="79.40" y2="454.80" stroke="#111" stroke-width="1.1"/>
<text x="79.40" y="463.60" font-size="7" text-anchor="middle" textLength="4.20" lengthAdjust="spacingAndGlyphs">6</text>
<line x1="100.30" y1="451.80" x2="100.30" y2="454.80" stroke="#111" stroke-width="1.1"/>
<text x="100.30" y="463.60" font-size="7" text-anchor="middle" textLength="4.20" lengthAdjust="spacingAndGlyphs">7</text>
<line x1="121.20" y1="451.80" x2="121.20" y2="454.80" stroke="#111" stroke-width="1.1"/>
<text x="121.20" y="463.60" font-size="7" text-anchor="middle" textLength="4.20" lengthAdjust="spacingAndGlyphs">8</text>
<line x1="142.10" y1="451.80" x2="142.10" y2="454.80" stroke="#111" stroke-width="1.1"/>
<text x="142.10" y="463.60" font-size="7" text-anchor="middle" textLength="4.20" lengthAdjust="spacingAndGlyphs">9</text>
<line x1="163.00" y1="451.80" x2="163.00" y2="454.80" stroke="#111" stroke-width="1.1"/>
<text x="163.00" y="463.60" font-size="7" text-anchor="middle" textLength="8.90" lengthAdjust="spacingAndGlyphs">10</text>
<text x="68.75" y="476.00" font-size="8.4" textLength="84.70" lengthAdjust="spacingAndGlyphs" style="stroke-width:0.25px"><tspan font-style="italic">IDO1</tspan> mRNA expression (log2)</text>
<text transform="translate(23.60,416.65) rotate(-90)" x="0" y="0" font-size="8.2" text-anchor="middle" style="stroke-width:0.2px" textLength="66.30" lengthAdjust="spacingAndGlyphs"><tspan font-style="italic">IDO2</tspan> mRNA expression</text>
<text transform="translate(33.70,416.00) rotate(-90)" x="0" y="0" font-size="8.2" text-anchor="middle" style="stroke-width:0.2px" textLength="16.70" lengthAdjust="spacingAndGlyphs">(log2)</text>
<g fill="#cc1236" fill-opacity="0.9"><rect x="104.57" y="429.03" width="1.2" height="1.2"/><rect x="79.66" y="431.78" width="1.2" height="1.2"/><rect x="86.30" y="430.21" width="1.2" height="1.2"/><rect x="92.32" y="434.63" width="1.2" height="1.2"/><rect x="112.70" y="425.96" width="1.2" height="1.2"/><rect x="106.99" y="430.99" width="1.2" height="1.2"/><rect x="89.00" y="428.54" width="1.2" height="1.2"/><rect x="116.79" y="425.75" width="1.2" height="1.2"/><rect x="78.64" y="421.87" width="1.2" height="1.2"/><rect x="83.64" y="429.73" width="1.2" height="1.2"/><rect x="89.56" y="441.12" width="1.2" height="1.2"/><rect x="92.66" y="429.93" width="1.2" height="1.2"/><rect x="89.65" y="418.47" width="1.2" height="1.2"/><rect x="111.86" y="423.35" width="1.2" height="1.2"/><rect x="97.23" y="434.57" width="1.2" height="1.2"/><rect x="102.07" y="431.63" width="1.2" height="1.2"/><rect x="88.74" y="426.68" width="1.2" height="1.2"/><rect x="97.01" y="428.16" width="1.2" height="1.2"/><rect x="101.70" y="425.71" width="1.2" height="1.2"/><rect x="112.68" y="428.14" width="1.2" height="1.2"/><rect x="80.81" y="426.14" width="1.2" height="1.2"/><rect x="88.48" y="430.73" width="1.2" height="1.2"/><rect x="93.21" y="426.01" width="1.2" height="1.2"/><rect x="86.12" y="427.67" width="1.2" height="1.2"/><rect x="108.30" y="434.38" width="1.2" height="1.2"/><rect x="104.35" y="430.42" width="1.2" height="1.2"/><rect x="105.40" y="423.61" width="1.2" height="1.2"/><rect x="102.10" y="429.58" width="1.2" height="1.2"/><rect x="89.39" y="440.51" width="1.2" height="1.2"/><rect x="103.34" y="431.91" width="1.2" height="1.2"/><rect x="109.69" y="425.17" width="1.2" height="1.2"/><rect x="91.45" y="431.61" width="1.2" height="1.2"/><rect x="109.09" y="424.86" width="1.2" height="1.2"/><rect x="80.51" y="435.14" width="1.2" height="1.2"/><rect x="119.91" y="429.85" width="1.2" height="1.2"/><rect x="93.16" y="439.12" width="1.2" height="1.2"/><rect x="88.87" y="434.88" width="1.2" height="1.2"/><rect x="93.23" y="438.12" width="1.2" height="1.2"/><rect x="101.68" y="426.18" width="1.2" height="1.2"/><rect x="96.26" y="431.90" width="1.2" height="1.2"/><rect x="95.03" y="438.63" width="1.2" height="1.2"/><rect x="91.22" y="429.48" width="1.2" height="1.2"/><rect x="104.13" y="429.80" width="1.2" height="1.2"/><rect x="93.22" y="434.36" width="1.2" height="1.2"/><rect x="98.51" y="432.57" width="1.2" height="1.2"/><rect x="95.68" y="426.57" width="1.2" height="1.2"/><rect x="98.81" y="427.74" width="1.2" height="1.2"/><rect x="102.30" y="427.25" width="1.2" height="1.2"/><rect x="108.30" y="421.97" width="1.2" height="1.2"/><rect x="91.22" y="435.72" width="1.2" height="1.2"/><rect x="105.84" y="428.01" width="1.2" height="1.2"/><rect x="89.13" y="430.43" width="1.2" height="1.2"/><rect x="109.49" y="433.17" width="1.2" height="1.2"/><rect x="109.57" y="425.04" width="1.2" height="1.2"/><rect x="100.19" y="435.12" width="1.2" height="1.2"/><rect x="103.10" y="427.50" width="1.2" height="1.2"/><rect x="93.01" y="429.28" width="1.2" height="1.2"/><rect x="83.44" y="438.00" width="1.2" height="1.2"/><rect x="96.56" y="433.64" width="1.2" height="1.2"/><rect x="107.67" y="435.89" width="1.2" height="1.2"/><rect x="97.65" y="427.93" width="1.2" height="1.2"/><rect x="93.07" y="433.93" width="1.2" height="1.2"/><rect x="107.02" y="430.08" width="1.2" height="1.2"/><rect x="109.94" y="433.05" width="1.2" height="1.2"/><rect x="83.72" y="436.43" width="1.2" height="1.2"/><rect x="121.98" y="417.62" width="1.2" height="1.2"/><rect x="99.53" y="430.46" width="1.2" height="1.2"/><rect x="92.69" y="424.62" width="1.2" height="1.2"/><rect x="92.36" y="424.75" width="1.2" height="1.2"/><rect x="104.69" y="425.66" width="1.2" height="1.2"/><rect x="102.99" y="432.21" width="1.2" height="1.2"/><rect x="97.53" y="418.66" width="1.2" height="1.2"/><rect x="105.08" y="429.45" width="1.2" height="1.2"/><rect x="97.02" y="433.60" width="1.2" height="1.2"/><rect x="95.11" y="435.48" width="1.2" height="1.2"/><rect x="106.13" y="424.10" width="1.2" height="1.2"/><rect x="99.43" y="436.93" width="1.2" height="1.2"/><rect x="99.51" y="429.69" width="1.2" height="1.2"/><rect x="101.94" y="423.51" width="1.2" height="1.2"/><rect x="107.39" y="424.02" width="1.2" height="1.2"/><rect x="100.05" y="431.42" width="1.2" height="1.2"/><rect x="108.14" y="443.53" width="1.2" height="1.2"/><rect x="119.70" y="432.78" width="1.2" height="1.2"/><rect x="99.64" y="421.54" width="1.2" height="1.2"/><rect x="118.29" y="432.82" width="1.2" height="1.2"/><rect x="112.40" y="425.29" width="1.2" height="1.2"/><rect x="110.06" y="419.65" width="1.2" height="1.2"/><rect x="113.03" y="430.13" width="1.2" height="1.2"/><rect x="79.30" y="430.95" width="1.2" height="1.2"/><rect x="100.10" y="428.13" width="1.2" height="1.2"/><rect x="103.90" y="423.84" width="1.2" height="1.2"/><rect x="112.49" y="426.87" width="1.2" height="1.2"/><rect x="99.91" y="430.87" width="1.2" height="1.2"/><rect x="94.77" y="431.45" width="1.2" height="1.2"/><rect x="109.12" y="433.36" width="1.2" height="1.2"/><rect x="100.75" y="434.50" width="1.2" height="1.2"/><rect x="80.05" y="434.92" width="1.2" height="1.2"/><rect x="94.19" y="438.34" width="1.2" height="1.2"/><rect x="92.42" y="428.76" width="1.2" height="1.2"/><rect x="75.70" y="428.53" width="1.2" height="1.2"/><rect x="93.81" y="425.16" width="1.2" height="1.2"/><rect x="101.62" y="421.33" width="1.2" height="1.2"/><rect x="97.82" y="433.48" width="1.2" height="1.2"/><rect x="106.69" y="429.92" width="1.2" height="1.2"/><rect x="96.96" y="425.35" width="1.2" height="1.2"/><rect x="95.34" y="434.12" width="1.2" height="1.2"/><rect x="101.61" y="430.62" width="1.2" height="1.2"/><rect x="114.88" y="427.41" width="1.2" height="1.2"/><rect x="94.73" y="418.45" width="1.2" height="1.2"/><rect x="107.98" y="431.58" width="1.2" height="1.2"/><rect x="104.06" y="433.83" width="1.2" height="1.2"/><rect x="111.23" y="425.23" width="1.2" height="1.2"/><rect x="119.93" y="423.17" width="1.2" height="1.2"/><rect x="100.02" y="431.68" width="1.2" height="1.2"/><rect x="102.53" y="421.17" width="1.2" height="1.2"/><rect x="104.94" y="434.35" width="1.2" height="1.2"/><rect x="108.06" y="426.61" width="1.2" height="1.2"/><rect x="111.85" y="418.00" width="1.2" height="1.2"/><rect x="106.62" y="435.85" width="1.2" height="1.2"/><rect x="92.18" y="434.16" width="1.2" height="1.2"/><rect x="103.16" y="426.33" width="1.2" height="1.2"/><rect x="88.34" y="428.26" width="1.2" height="1.2"/><rect x="90.93" y="415.78" width="1.2" height="1.2"/><rect x="82.26" y="431.63" width="1.2" height="1.2"/><rect x="96.26" y="435.07" width="1.2" height="1.2"/><rect x="97.86" y="427.30" width="1.2" height="1.2"/><rect x="103.73" y="428.64" width="1.2" height="1.2"/><rect x="94.46" y="431.01" width="1.2" height="1.2"/><rect x="128.65" y="426.47" width="1.2" height="1.2"/><rect x="103.53" y="421.83" width="1.2" height="1.2"/><rect x="94.20" y="425.74" width="1.2" height="1.2"/><rect x="94.79" y="433.79" width="1.2" height="1.2"/><rect x="114.84" y="414.30" width="1.2" height="1.2"/><rect x="97.14" y="434.06" width="1.2" height="1.2"/><rect x="96.47" y="432.04" width="1.2" height="1.2"/><rect x="95.43" y="434.07" width="1.2" height="1.2"/><rect x="125.13" y="419.02" width="1.2" height="1.2"/><rect x="120.17" y="424.86" width="1.2" height="1.2"/><rect x="120.85" y="430.97" width="1.2" height="1.2"/><rect x="94.21" y="438.74" width="1.2" height="1.2"/><rect x="78.40" y="432.99" width="1.2" height="1.2"/><rect x="89.53" y="437.82" width="1.2" height="1.2"/><rect x="104.98" y="434.71" width="1.2" height="1.2"/><rect x="111.28" y="431.30" width="1.2" height="1.2"/><rect x="91.74" y="428.18" width="1.2" height="1.2"/><rect x="91.60" y="428.64" width="1.2" height="1.2"/><rect x="107.90" y="436.52" width="1.2" height="1.2"/><rect x="113.54" y="433.32" width="1.2" height="1.2"/><rect x="109.06" y="431.30" width="1.2" height="1.2"/><rect x="88.49" y="431.01" width="1.2" height="1.2"/><rect x="95.94" y="428.93" width="1.2" height="1.2"/><rect x="96.77" y="428.84" width="1.2" height="1.2"/><rect x="108.57" y="430.46" width="1.2" height="1.2"/><rect x="77.33" y="428.42" width="1.2" height="1.2"/><rect x="134.37" y="439.72" width="1.2" height="1.2"/><rect x="122.53" y="434.80" width="1.2" height="1.2"/><rect x="110.74" y="437.59" width="1.2" height="1.2"/><rect x="100.66" y="427.07" width="1.2" height="1.2"/><rect x="110.22" y="430.09" width="1.2" height="1.2"/><rect x="111.93" y="428.61" width="1.2" height="1.2"/><rect x="95.55" y="436.14" width="1.2" height="1.2"/><rect x="109.49" y="424.58" width="1.2" height="1.2"/><rect x="112.13" y="438.13" width="1.2" height="1.2"/><rect x="101.06" y="422.95" width="1.2" height="1.2"/><rect x="110.29" y="432.97" width="1.2" height="1.2"/><rect x="122.63" y="423.31" width="1.2" height="1.2"/><rect x="96.62" y="428.59" width="1.2" height="1.2"/><rect x="101.34" y="427.30" width="1.2" height="1.2"/><rect x="94.69" y="425.19" width="1.2" height="1.2"/><rect x="83.68" y="433.82" width="1.2" height="1.2"/><rect x="101.30" y="429.81" width="1.2" height="1.2"/><rect x="101.70" y="426.65" width="1.2" height="1.2"/><rect x="96.48" y="435.98" width="1.2" height="1.2"/><rect x="111.23" y="434.90" width="1.2" height="1.2"/><rect x="93.83" y="422.98" width="1.2" height="1.2"/><rect x="113.58" y="428.45" width="1.2" height="1.2"/><rect x="81.62" y="431.32" width="1.2" height="1.2"/><rect x="109.18" y="429.36" width="1.2" height="1.2"/><rect x="93.48" y="423.79" width="1.2" height="1.2"/><rect x="109.37" y="435.16" width="1.2" height="1.2"/><rect x="108.53" y="424.32" width="1.2" height="1.2"/><rect x="96.90" y="432.31" width="1.2" height="1.2"/><rect x="96.10" y="428.71" width="1.2" height="1.2"/><rect x="93.41" y="433.73" width="1.2" height="1.2"/><rect x="93.49" y="432.65" width="1.2" height="1.2"/><rect x="92.77" y="428.38" width="1.2" height="1.2"/><rect x="74.37" y="435.32" width="1.2" height="1.2"/><rect x="108.07" y="433.47" width="1.2" height="1.2"/><rect x="98.35" y="434.46" width="1.2" height="1.2"/><rect x="89.89" y="428.34" width="1.2" height="1.2"/><rect x="103.85" y="428.88" width="1.2" height="1.2"/><rect x="102.29" y="420.69" width="1.2" height="1.2"/><rect x="85.63" y="423.60" width="1.2" height="1.2"/><rect x="96.74" y="437.08" width="1.2" height="1.2"/><rect x="120.92" y="423.11" width="1.2" height="1.2"/><rect x="101.14" y="422.40" width="1.2" height="1.2"/><rect x="94.38" y="427.08" width="1.2" height="1.2"/><rect x="97.26" y="430.52" width="1.2" height="1.2"/><rect x="87.97" y="441.95" width="1.2" height="1.2"/><rect x="95.38" y="432.22" width="1.2" height="1.2"/><rect x="97.06" y="431.55" width="1.2" height="1.2"/><rect x="106.71" y="425.31" width="1.2" height="1.2"/><rect x="92.96" y="428.67" width="1.2" height="1.2"/><rect x="106.87" y="430.07" width="1.2" height="1.2"/><rect x="98.23" y="424.32" width="1.2" height="1.2"/><rect x="104.85" y="430.13" width="1.2" height="1.2"/><rect x="108.33" y="428.16" width="1.2" height="1.2"/><rect x="72.71" y="438.53" width="1.2" height="1.2"/><rect x="80.71" y="432.38" width="1.2" height="1.2"/><rect x="99.81" y="430.32" width="1.2" height="1.2"/><rect x="98.31" y="436.09" width="1.2" height="1.2"/><rect x="95.04" y="431.59" width="1.2" height="1.2"/><rect x="114.14" y="420.21" width="1.2" height="1.2"/><rect x="97.56" y="418.92" width="1.2" height="1.2"/><rect x="123.89" y="432.85" width="1.2" height="1.2"/><rect x="95.49" y="433.07" width="1.2" height="1.2"/><rect x="82.02" y="429.39" width="1.2" height="1.2"/><rect x="109.07" y="426.14" width="1.2" height="1.2"/><rect x="99.84" y="423.33" width="1.2" height="1.2"/><rect x="96.37" y="426.35" width="1.2" height="1.2"/><rect x="97.54" y="430.32" width="1.2" height="1.2"/><rect x="91.03" y="437.42" width="1.2" height="1.2"/><rect x="99.46" y="434.13" width="1.2" height="1.2"/><rect x="110.24" y="425.81" width="1.2" height="1.2"/><rect x="119.33" y="430.59" width="1.2" height="1.2"/><rect x="96.73" y="432.47" width="1.2" height="1.2"/><rect x="109.50" y="433.95" width="1.2" height="1.2"/><rect x="103.60" y="424.94" width="1.2" height="1.2"/><rect x="90.17" y="427.65" width="1.2" height="1.2"/><rect x="89.10" y="426.85" width="1.2" height="1.2"/><rect x="98.74" y="440.55" width="1.2" height="1.2"/><rect x="102.00" y="423.23" width="1.2" height="1.2"/><rect x="116.21" y="426.52" width="1.2" height="1.2"/><rect x="78.72" y="430.27" width="1.2" height="1.2"/><rect x="110.11" y="428.55" width="1.2" height="1.2"/><rect x="102.05" y="422.60" width="1.2" height="1.2"/><rect x="103.35" y="440.68" width="1.2" height="1.2"/><rect x="104.66" y="429.27" width="1.2" height="1.2"/><rect x="88.44" y="430.60" width="1.2" height="1.2"/><rect x="107.88" y="427.04" width="1.2" height="1.2"/><rect x="106.38" y="434.86" width="1.2" height="1.2"/><rect x="101.81" y="430.64" width="1.2" height="1.2"/><rect x="94.48" y="427.08" width="1.2" height="1.2"/><rect x="87.04" y="432.35" width="1.2" height="1.2"/><rect x="118.91" y="434.44" width="1.2" height="1.2"/><rect x="94.33" y="426.64" width="1.2" height="1.2"/><rect x="117.88" y="430.74" width="1.2" height="1.2"/><rect x="118.83" y="422.40" width="1.2" height="1.2"/><rect x="101.75" y="434.46" width="1.2" height="1.2"/><rect x="93.93" y="431.29" width="1.2" height="1.2"/><rect x="100.64" y="423.30" width="1.2" height="1.2"/><rect x="106.18" y="428.60" width="1.2" height="1.2"/><rect x="109.83" y="435.29" width="1.2" height="1.2"/><rect x="97.19" y="441.31" width="1.2" height="1.2"/><rect x="97.16" y="435.85" width="1.2" height="1.2"/><rect x="104.04" y="427.37" width="1.2" height="1.2"/><rect x="86.42" y="426.46" width="1.2" height="1.2"/><rect x="104.48" y="426.96" width="1.2" height="1.2"/><rect x="83.22" y="440.60" width="1.2" height="1.2"/><rect x="112.26" y="440.78" width="1.2" height="1.2"/><rect x="98.92" y="431.00" width="1.2" height="1.2"/><rect x="101.12" y="429.17" width="1.2" height="1.2"/><rect x="114.19" y="437.10" width="1.2" height="1.2"/><rect x="106.56" y="434.22" width="1.2" height="1.2"/><rect x="89.15" y="438.54" width="1.2" height="1.2"/><rect x="130.77" y="412.81" width="1.2" height="1.2"/><rect x="101.44" y="436.64" width="1.2" height="1.2"/><rect x="117.18" y="429.46" width="1.2" height="1.2"/><rect x="96.06" y="430.66" width="1.2" height="1.2"/><rect x="107.74" y="428.33" width="1.2" height="1.2"/><rect x="112.51" y="433.57" width="1.2" height="1.2"/><rect x="94.81" y="431.11" width="1.2" height="1.2"/><rect x="114.59" y="436.97" width="1.2" height="1.2"/><rect x="106.30" y="431.24" width="1.2" height="1.2"/><rect x="107.18" y="426.69" width="1.2" height="1.2"/><rect x="118.16" y="425.63" width="1.2" height="1.2"/><rect x="98.55" y="433.88" width="1.2" height="1.2"/><rect x="102.33" y="429.66" width="1.2" height="1.2"/><rect x="90.28" y="433.38" width="1.2" height="1.2"/><rect x="113.61" y="428.32" width="1.2" height="1.2"/><rect x="81.69" y="428.99" width="1.2" height="1.2"/><rect x="130.25" y="424.49" width="1.2" height="1.2"/><rect x="89.31" y="434.19" width="1.2" height="1.2"/><rect x="108.68" y="427.73" width="1.2" height="1.2"/><rect x="95.68" y="431.12" width="1.2" height="1.2"/><rect x="120.41" y="427.46" width="1.2" height="1.2"/><rect x="99.30" y="439.08" width="1.2" height="1.2"/><rect x="100.25" y="432.15" width="1.2" height="1.2"/><rect x="108.60" y="422.31" width="1.2" height="1.2"/><rect x="121.88" y="430.28" width="1.2" height="1.2"/><rect x="93.01" y="425.95" width="1.2" height="1.2"/><rect x="100.28" y="429.33" width="1.2" height="1.2"/><rect x="110.75" y="421.55" width="1.2" height="1.2"/><rect x="106.47" y="428.58" width="1.2" height="1.2"/><rect x="99.28" y="422.64" width="1.2" height="1.2"/><rect x="85.52" y="436.29" width="1.2" height="1.2"/><rect x="94.06" y="424.50" width="1.2" height="1.2"/><rect x="89.63" y="429.20" width="1.2" height="1.2"/><rect x="97.96" y="424.59" width="1.2" height="1.2"/><rect x="100.80" y="431.59" width="1.2" height="1.2"/><rect x="81.92" y="429.85" width="1.2" height="1.2"/><rect x="102.48" y="426.26" width="1.2" height="1.2"/><rect x="104.26" y="424.72" width="1.2" height="1.2"/><rect x="114.76" y="414.66" width="1.2" height="1.2"/><rect x="114.06" y="429.68" width="1.2" height="1.2"/><rect x="103.07" y="425.78" width="1.2" height="1.2"/><rect x="99.86" y="431.36" width="1.2" height="1.2"/><rect x="103.49" y="424.19" width="1.2" height="1.2"/><rect x="107.59" y="430.77" width="1.2" height="1.2"/><rect x="94.35" y="422.82" width="1.2" height="1.2"/><rect x="104.43" y="422.14" width="1.2" height="1.2"/><rect x="96.24" y="426.17" width="1.2" height="1.2"/><rect x="100.57" y="433.36" width="1.2" height="1.2"/><rect x="98.65" y="430.08" width="1.2" height="1.2"/><rect x="97.10" y="429.09" width="1.2" height="1.2"/><rect x="98.47" y="426.26" width="1.2" height="1.2"/><rect x="100.78" y="437.25" width="1.2" height="1.2"/><rect x="88.22" y="424.41" width="1.2" height="1.2"/><rect x="85.77" y="434.41" width="1.2" height="1.2"/><rect x="96.79" y="431.26" width="1.2" height="1.2"/><rect x="90.36" y="435.36" width="1.2" height="1.2"/><rect x="89.01" y="433.92" width="1.2" height="1.2"/><rect x="91.03" y="435.90" width="1.2" height="1.2"/><rect x="105.13" y="427.58" width="1.2" height="1.2"/><rect x="96.47" y="423.21" width="1.2" height="1.2"/><rect x="97.15" y="432.06" width="1.2" height="1.2"/><rect x="86.59" y="436.74" width="1.2" height="1.2"/><rect x="112.22" y="423.94" width="1.2" height="1.2"/><rect x="91.53" y="427.74" width="1.2" height="1.2"/><rect x="104.87" y="425.18" width="1.2" height="1.2"/><rect x="107.38" y="425.70" width="1.2" height="1.2"/><rect x="83.15" y="430.66" width="1.2" height="1.2"/><rect x="98.99" y="422.42" width="1.2" height="1.2"/><rect x="95.02" y="425.11" width="1.2" height="1.2"/><rect x="100.84" y="425.81" width="1.2" height="1.2"/><rect x="114.59" y="431.39" width="1.2" height="1.2"/><rect x="112.70" y="431.69" width="1.2" height="1.2"/><rect x="112.70" y="430.14" width="1.2" height="1.2"/><rect x="94.89" y="430.20" width="1.2" height="1.2"/><rect x="82.62" y="435.87" width="1.2" height="1.2"/><rect x="112.30" y="415.08" width="1.2" height="1.2"/><rect x="94.40" y="434.38" width="1.2" height="1.2"/><rect x="107.09" y="428.37" width="1.2" height="1.2"/><rect x="97.24" y="432.67" width="1.2" height="1.2"/><rect x="83.05" y="428.38" width="1.2" height="1.2"/><rect x="107.18" y="429.73" width="1.2" height="1.2"/><rect x="109.38" y="415.29" width="1.2" height="1.2"/><rect x="100.77" y="430.62" width="1.2" height="1.2"/><rect x="92.84" y="433.52" width="1.2" height="1.2"/><rect x="92.47" y="428.20" width="1.2" height="1.2"/><rect x="110.25" y="443.21" width="1.2" height="1.2"/><rect x="107.32" y="429.74" width="1.2" height="1.2"/><rect x="90.14" y="433.41" width="1.2" height="1.2"/><rect x="97.53" y="437.07" width="1.2" height="1.2"/><rect x="95.92" y="422.50" width="1.2" height="1.2"/><rect x="79.71" y="434.38" width="1.2" height="1.2"/><rect x="102.14" y="428.15" width="1.2" height="1.2"/><rect x="98.07" y="428.58" width="1.2" height="1.2"/><rect x="118.07" y="431.52" width="1.2" height="1.2"/><rect x="110.10" y="425.75" width="1.2" height="1.2"/><rect x="77.45" y="431.99" width="1.2" height="1.2"/><rect x="97.03" y="434.35" width="1.2" height="1.2"/><rect x="120.33" y="439.57" width="1.2" height="1.2"/><rect x="103.14" y="430.16" width="1.2" height="1.2"/><rect x="114.69" y="425.57" width="1.2" height="1.2"/><rect x="102.78" y="431.06" width="1.2" height="1.2"/><rect x="127.45" y="429.82" width="1.2" height="1.2"/><rect x="101.19" y="434.77" width="1.2" height="1.2"/><rect x="95.07" y="429.03" width="1.2" height="1.2"/><rect x="86.93" y="442.82" width="1.2" height="1.2"/><rect x="107.59" y="417.36" width="1.2" height="1.2"/><rect x="108.51" y="429.30" width="1.2" height="1.2"/><rect x="103.04" y="437.73" width="1.2" height="1.2"/><rect x="85.73" y="432.46" width="1.2" height="1.2"/><rect x="97.98" y="427.74" width="1.2" height="1.2"/><rect x="124.37" y="437.72" width="1.2" height="1.2"/><rect x="116.93" y="424.35" width="1.2" height="1.2"/><rect x="91.24" y="436.07" width="1.2" height="1.2"/><rect x="103.50" y="428.21" width="1.2" height="1.2"/><rect x="107.87" y="424.25" width="1.2" height="1.2"/><rect x="104.09" y="430.15" width="1.2" height="1.2"/><rect x="113.51" y="422.85" width="1.2" height="1.2"/><rect x="101.96" y="428.68" width="1.2" height="1.2"/><rect x="108.00" y="427.72" width="1.2" height="1.2"/><rect x="97.24" y="427.83" width="1.2" height="1.2"/><rect x="93.45" y="431.09" width="1.2" height="1.2"/><rect x="111.32" y="439.26" width="1.2" height="1.2"/><rect x="110.34" y="430.52" width="1.2" height="1.2"/><rect x="84.87" y="428.70" width="1.2" height="1.2"/><rect x="97.61" y="429.92" width="1.2" height="1.2"/><rect x="110.54" y="431.71" width="1.2" height="1.2"/><rect x="92.49" y="428.37" width="1.2" height="1.2"/><rect x="97.11" y="427.56" width="1.2" height="1.2"/><rect x="107.44" y="427.22" width="1.2" height="1.2"/><rect x="111.91" y="422.36" width="1.2" height="1.2"/><rect x="115.26" y="432.52" width="1.2" height="1.2"/><rect x="88.75" y="430.75" width="1.2" height="1.2"/><rect x="94.62" y="430.49" width="1.2" height="1.2"/><rect x="91.30" y="430.17" width="1.2" height="1.2"/><rect x="94.91" y="431.56" width="1.2" height="1.2"/><rect x="101.06" y="437.76" width="1.2" height="1.2"/><rect x="101.11" y="428.80" width="1.2" height="1.2"/><rect x="73.43" y="433.21" width="1.2" height="1.2"/><rect x="97.47" y="426.86" width="1.2" height="1.2"/><rect x="106.59" y="433.17" width="1.2" height="1.2"/><rect x="91.38" y="433.49" width="1.2" height="1.2"/><rect x="102.82" y="427.96" width="1.2" height="1.2"/><rect x="101.12" y="434.89" width="1.2" height="1.2"/><rect x="98.59" y="427.11" width="1.2" height="1.2"/><rect x="79.04" y="424.70" width="1.2" height="1.2"/><rect x="89.73" y="426.16" width="1.2" height="1.2"/><rect x="84.94" y="441.74" width="1.2" height="1.2"/><rect x="101.06" y="428.98" width="1.2" height="1.2"/><rect x="86.85" y="434.60" width="1.2" height="1.2"/><rect x="100.37" y="436.18" width="1.2" height="1.2"/><rect x="107.91" y="433.75" width="1.2" height="1.2"/><rect x="101.93" y="431.98" width="1.2" height="1.2"/><rect x="130.50" y="423.86" width="1.2" height="1.2"/><rect x="82.45" y="432.36" width="1.2" height="1.2"/><rect x="120.87" y="420.72" width="1.2" height="1.2"/><rect x="106.51" y="437.98" width="1.2" height="1.2"/><rect x="101.41" y="426.23" width="1.2" height="1.2"/><rect x="94.69" y="433.35" width="1.2" height="1.2"/><rect x="88.32" y="420.43" width="1.2" height="1.2"/><rect x="109.92" y="419.59" width="1.2" height="1.2"/><rect x="99.00" y="416.27" width="1.2" height="1.2"/><rect x="86.38" y="426.86" width="1.2" height="1.2"/><rect x="106.41" y="414.85" width="1.2" height="1.2"/><rect x="110.65" y="426.96" width="1.2" height="1.2"/><rect x="129.35" y="438.40" width="1.2" height="1.2"/><rect x="99.54" y="442.80" width="1.2" height="1.2"/><rect x="103.10" y="433.45" width="1.2" height="1.2"/><rect x="80.26" y="431.99" width="1.2" height="1.2"/><rect x="96.21" y="423.04" width="1.2" height="1.2"/><rect x="106.06" y="418.51" width="1.2" height="1.2"/><rect x="106.92" y="422.28" width="1.2" height="1.2"/><rect x="90.05" y="423.95" width="1.2" height="1.2"/><rect x="85.73" y="426.47" width="1.2" height="1.2"/><rect x="117.28" y="427.72" width="1.2" height="1.2"/><rect x="112.55" y="432.93" width="1.2" height="1.2"/><rect x="92.03" y="427.42" width="1.2" height="1.2"/><rect x="101.80" y="433.01" width="1.2" height="1.2"/><rect x="90.77" y="426.44" width="1.2" height="1.2"/><rect x="98.06" y="436.07" width="1.2" height="1.2"/><rect x="91.24" y="423.89" width="1.2" height="1.2"/><rect x="98.83" y="428.40" width="1.2" height="1.2"/><rect x="104.70" y="433.97" width="1.2" height="1.2"/><rect x="92.97" y="433.96" width="1.2" height="1.2"/><rect x="75.45" y="422.62" width="1.2" height="1.2"/><rect x="77.42" y="431.89" width="1.2" height="1.2"/><rect x="105.72" y="428.56" width="1.2" height="1.2"/><rect x="109.52" y="435.64" width="1.2" height="1.2"/><rect x="109.70" y="437.35" width="1.2" height="1.2"/><rect x="102.39" y="426.15" width="1.2" height="1.2"/><rect x="109.10" y="431.54" width="1.2" height="1.2"/><rect x="85.37" y="430.41" width="1.2" height="1.2"/><rect x="117.36" y="421.06" width="1.2" height="1.2"/><rect x="92.96" y="426.96" width="1.2" height="1.2"/><rect x="85.64" y="438.83" width="1.2" height="1.2"/><rect x="86.94" y="436.81" width="1.2" height="1.2"/><rect x="114.60" y="423.26" width="1.2" height="1.2"/><rect x="102.95" y="428.85" width="1.2" height="1.2"/><rect x="92.13" y="422.08" width="1.2" height="1.2"/><rect x="100.03" y="420.54" width="1.2" height="1.2"/><rect x="99.90" y="427.53" width="1.2" height="1.2"/><rect x="114.41" y="435.68" width="1.2" height="1.2"/><rect x="112.18" y="435.39" width="1.2" height="1.2"/><rect x="108.50" y="429.67" width="1.2" height="1.2"/><rect x="92.22" y="425.83" width="1.2" height="1.2"/><rect x="95.09" y="438.41" width="1.2" height="1.2"/><rect x="112.80" y="427.15" width="1.2" height="1.2"/><rect x="93.36" y="423.99" width="1.2" height="1.2"/><rect x="94.14" y="419.65" width="1.2" height="1.2"/><rect x="106.09" y="433.39" width="1.2" height="1.2"/><rect x="103.65" y="422.76" width="1.2" height="1.2"/><rect x="81.55" y="430.55" width="1.2" height="1.2"/><rect x="99.50" y="426.88" width="1.2" height="1.2"/><rect x="107.04" y="429.78" width="1.2" height="1.2"/><rect x="122.43" y="424.70" width="1.2" height="1.2"/><rect x="92.03" y="439.65" width="1.2" height="1.2"/><rect x="95.73" y="433.93" width="1.2" height="1.2"/><rect x="99.32" y="433.66" width="1.2" height="1.2"/><rect x="106.81" y="427.89" width="1.2" height="1.2"/><rect x="108.17" y="426.00" width="1.2" height="1.2"/><rect x="82.93" y="422.04" width="1.2" height="1.2"/><rect x="108.64" y="434.21" width="1.2" height="1.2"/><rect x="87.39" y="428.52" width="1.2" height="1.2"/><rect x="97.64" y="436.21" width="1.2" height="1.2"/><rect x="87.74" y="429.68" width="1.2" height="1.2"/><rect x="98.33" y="441.58" width="1.2" height="1.2"/><rect x="105.29" y="423.99" width="1.2" height="1.2"/><rect x="106.47" y="427.46" width="1.2" height="1.2"/><rect x="110.17" y="430.52" width="1.2" height="1.2"/><rect x="93.14" y="423.65" width="1.2" height="1.2"/><rect x="109.73" y="432.18" width="1.2" height="1.2"/><rect x="120.72" y="425.09" width="1.2" height="1.2"/><rect x="102.21" y="422.22" width="1.2" height="1.2"/><rect x="99.25" y="423.08" width="1.2" height="1.2"/><rect x="102.76" y="425.42" width="1.2" height="1.2"/><rect x="107.57" y="424.82" width="1.2" height="1.2"/><rect x="90.50" y="422.53" width="1.2" height="1.2"/><rect x="98.14" y="430.91" width="1.2" height="1.2"/><rect x="82.31" y="431.22" width="1.2" height="1.2"/><rect x="86.43" y="427.54" width="1.2" height="1.2"/><rect x="97.31" y="437.70" width="1.2" height="1.2"/><rect x="104.43" y="425.50" width="1.2" height="1.2"/><rect x="100.36" y="421.10" width="1.2" height="1.2"/><rect x="119.80" y="420.36" width="1.2" height="1.2"/><rect x="81.61" y="419.84" width="1.2" height="1.2"/><rect x="95.91" y="423.56" width="1.2" height="1.2"/><rect x="99.02" y="432.08" width="1.2" height="1.2"/><rect x="105.29" y="423.81" width="1.2" height="1.2"/><rect x="100.55" y="431.17" width="1.2" height="1.2"/><rect x="126.56" y="424.48" width="1.2" height="1.2"/><rect x="98.81" y="427.98" width="1.2" height="1.2"/><rect x="99.33" y="429.98" width="1.2" height="1.2"/><rect x="107.64" y="432.85" width="1.2" height="1.2"/><rect x="89.11" y="432.38" width="1.2" height="1.2"/><rect x="127.15" y="429.63" width="1.2" height="1.2"/><rect x="101.93" y="435.02" width="1.2" height="1.2"/><rect x="94.21" y="434.78" width="1.2" height="1.2"/><rect x="101.56" y="426.45" width="1.2" height="1.2"/><rect x="106.61" y="420.56" width="1.2" height="1.2"/><rect x="100.28" y="428.37" width="1.2" height="1.2"/><rect x="97.02" y="430.41" width="1.2" height="1.2"/><rect x="96.73" y="420.58" width="1.2" height="1.2"/><rect x="87.94" y="430.29" width="1.2" height="1.2"/><rect x="119.91" y="416.95" width="1.2" height="1.2"/><rect x="112.92" y="426.46" width="1.2" height="1.2"/><rect x="115.31" y="431.17" width="1.2" height="1.2"/><rect x="86.83" y="432.65" width="1.2" height="1.2"/><rect x="86.74" y="432.65" width="1.2" height="1.2"/><rect x="93.89" y="432.02" width="1.2" height="1.2"/><rect x="98.95" y="424.46" width="1.2" height="1.2"/><rect x="104.43" y="435.10" width="1.2" height="1.2"/><rect x="98.77" y="434.88" width="1.2" height="1.2"/><rect x="124.44" y="424.74" width="1.2" height="1.2"/><rect x="120.94" y="421.68" width="1.2" height="1.2"/><rect x="109.30" y="430.19" width="1.2" height="1.2"/><rect x="109.33" y="423.28" width="1.2" height="1.2"/><rect x="93.40" y="402.40" width="1.2" height="1.2"/><rect x="95.40" y="405.90" width="1.2" height="1.2"/><rect x="83.40" y="408.40" width="1.2" height="1.2"/><rect x="121.40" y="406.40" width="1.2" height="1.2"/><rect x="130.40" y="411.40" width="1.2" height="1.2"/><rect x="117.40" y="443.90" width="1.2" height="1.2"/></g>
<line x1="72.30" y1="432.20" x2="137.80" y2="424.80" stroke="#15407e" stroke-width="1.7" stroke-linecap="round"/>
<text x="265.85" y="358.00" font-size="10.6" font-weight="bold" fill="#000">F</text>
<text x="334.25" y="367.00" font-size="9" textLength="64.40" lengthAdjust="spacingAndGlyphs">HOVON dataset</text>
<text x="351.25" y="381.30" font-size="7" textLength="28.50" lengthAdjust="spacingAndGlyphs">r = −0.25</text>
<text x="351.25" y="389.50" font-size="7" textLength="79.50" lengthAdjust="spacingAndGlyphs">95% C.I. [−0.33 to −0.18]</text>
<text x="351.25" y="398.00" font-size="7" textLength="32.50" lengthAdjust="spacingAndGlyphs"><tspan font-style="italic">P</tspan>&lt;0.0001</text>
<line x1="313.80" y1="380.90" x2="313.80" y2="452.50" stroke="#111" stroke-width="1.4"/>
<line x1="313.10" y1="451.80" x2="420.50" y2="451.80" stroke="#111" stroke-width="1.4"/>
<line x1="311.00" y1="451.80" x2="313.80" y2="451.80" stroke="#111" stroke-width="1.1"/>
<text x="308.30" y="453.90" font-size="7" text-anchor="end" textLength="4.20" lengthAdjust="spacingAndGlyphs">0</text>
<line x1="311.00" y1="428.35" x2="313.80" y2="428.35" stroke="#111" stroke-width="1.1"/>
<text x="308.30" y="430.45" font-size="7" text-anchor="end" textLength="4.20" lengthAdjust="spacingAndGlyphs">5</text>
<line x1="311.00" y1="404.90" x2="313.80" y2="404.90" stroke="#111" stroke-width="1.1"/>
<text x="308.30" y="407.00" font-size="7" text-anchor="end" textLength="8.90" lengthAdjust="spacingAndGlyphs">10</text>
<line x1="311.00" y1="381.45" x2="313.80" y2="381.45" stroke="#111" stroke-width="1.1"/>
<text x="308.30" y="383.55" font-size="7" text-anchor="end" textLength="8.90" lengthAdjust="spacingAndGlyphs">15</text>
<line x1="313.80" y1="451.80" x2="313.80" y2="454.80" stroke="#111" stroke-width="1.1"/>
<text x="313.80" y="463.90" font-size="7" text-anchor="middle" textLength="4.20" lengthAdjust="spacingAndGlyphs">5</text>
<line x1="335.04" y1="451.80" x2="335.04" y2="454.80" stroke="#111" stroke-width="1.1"/>
<text x="335.04" y="463.90" font-size="7" text-anchor="middle" textLength="4.20" lengthAdjust="spacingAndGlyphs">6</text>
<line x1="356.28" y1="451.80" x2="356.28" y2="454.80" stroke="#111" stroke-width="1.1"/>
<text x="356.28" y="463.90" font-size="7" text-anchor="middle" textLength="4.20" lengthAdjust="spacingAndGlyphs">7</text>
<line x1="377.52" y1="451.80" x2="377.52" y2="454.80" stroke="#111" stroke-width="1.1"/>
<text x="377.52" y="463.90" font-size="7" text-anchor="middle" textLength="4.20" lengthAdjust="spacingAndGlyphs">8</text>
<line x1="398.76" y1="451.80" x2="398.76" y2="454.80" stroke="#111" stroke-width="1.1"/>
<text x="398.76" y="463.90" font-size="7" text-anchor="middle" textLength="4.20" lengthAdjust="spacingAndGlyphs">9</text>
<line x1="420.00" y1="451.80" x2="420.00" y2="454.80" stroke="#111" stroke-width="1.1"/>
<text x="420.00" y="463.90" font-size="7" text-anchor="middle" textLength="8.90" lengthAdjust="spacingAndGlyphs">10</text>
<text x="325.50" y="476.00" font-size="8.4" textLength="84.70" lengthAdjust="spacingAndGlyphs" style="stroke-width:0.25px"><tspan font-style="italic">IDO1</tspan> mRNA expression (log2)</text>
<text transform="translate(283.60,416.05) rotate(-90)" x="0" y="0" font-size="8.2" text-anchor="middle" style="stroke-width:0.2px" textLength="73.50" lengthAdjust="spacingAndGlyphs"><tspan font-style="italic">PLXNC1</tspan> mRNA expression</text>
<text transform="translate(293.60,416.00) rotate(-90)" x="0" y="0" font-size="8.2" text-anchor="middle" style="stroke-width:0.2px" textLength="16.70" lengthAdjust="spacingAndGlyphs">(log2)</text>
<g fill="#cc1236" fill-opacity="0.9"><rect x="353.23" y="417.91" width="1.2" height="1.2"/><rect x="335.25" y="402.83" width="1.2" height="1.2"/><rect x="359.89" y="414.09" width="1.2" height="1.2"/><rect x="367.78" y="410.56" width="1.2" height="1.2"/><rect x="357.90" y="414.28" width="1.2" height="1.2"/><rect x="356.18" y="409.18" width="1.2" height="1.2"/><rect x="376.15" y="410.07" width="1.2" height="1.2"/><rect x="356.51" y="411.47" width="1.2" height="1.2"/><rect x="344.30" y="410.19" width="1.2" height="1.2"/><rect x="354.38" y="413.63" width="1.2" height="1.2"/><rect x="332.88" y="414.05" width="1.2" height="1.2"/><rect x="361.09" y="407.37" width="1.2" height="1.2"/><rect x="360.76" y="413.78" width="1.2" height="1.2"/><rect x="353.50" y="413.13" width="1.2" height="1.2"/><rect x="358.00" y="407.30" width="1.2" height="1.2"/><rect x="363.12" y="411.04" width="1.2" height="1.2"/><rect x="348.67" y="416.70" width="1.2" height="1.2"/><rect x="333.96" y="411.48" width="1.2" height="1.2"/><rect x="355.23" y="420.63" width="1.2" height="1.2"/><rect x="364.17" y="416.81" width="1.2" height="1.2"/><rect x="357.54" y="416.93" width="1.2" height="1.2"/><rect x="344.96" y="407.72" width="1.2" height="1.2"/><rect x="367.86" y="416.67" width="1.2" height="1.2"/><rect x="345.26" y="412.57" width="1.2" height="1.2"/><rect x="352.00" y="408.68" width="1.2" height="1.2"/><rect x="348.62" y="406.48" width="1.2" height="1.2"/><rect x="364.86" y="411.44" width="1.2" height="1.2"/><rect x="356.34" y="423.44" width="1.2" height="1.2"/><rect x="341.77" y="415.43" width="1.2" height="1.2"/><rect x="338.64" y="404.47" width="1.2" height="1.2"/><rect x="375.31" y="420.48" width="1.2" height="1.2"/><rect x="358.81" y="413.78" width="1.2" height="1.2"/><rect x="360.27" y="412.48" width="1.2" height="1.2"/><rect x="372.98" y="411.56" width="1.2" height="1.2"/><rect x="353.73" y="415.99" width="1.2" height="1.2"/><rect x="354.59" y="411.27" width="1.2" height="1.2"/><rect x="352.10" y="409.23" width="1.2" height="1.2"/><rect x="363.37" y="419.49" width="1.2" height="1.2"/><rect x="358.84" y="406.18" width="1.2" height="1.2"/><rect x="382.47" y="416.06" width="1.2" height="1.2"/><rect x="359.11" y="409.66" width="1.2" height="1.2"/><rect x="333.05" y="405.10" width="1.2" height="1.2"/><rect x="365.29" y="415.54" width="1.2" height="1.2"/><rect x="353.49" y="413.07" width="1.2" height="1.2"/><rect x="381.14" y="417.32" width="1.2" height="1.2"/><rect x="347.32" y="412.87" width="1.2" height="1.2"/><rect x="358.45" y="418.95" width="1.2" height="1.2"/><rect x="365.84" y="413.47" width="1.2" height="1.2"/><rect x="366.77" y="417.40" width="1.2" height="1.2"/><rect x="358.25" y="411.24" width="1.2" height="1.2"/><rect x="349.33" y="418.00" width="1.2" height="1.2"/><rect x="334.39" y="404.71" width="1.2" height="1.2"/><rect x="360.07" y="413.60" width="1.2" height="1.2"/><rect x="350.00" y="407.98" width="1.2" height="1.2"/><rect x="345.35" y="412.92" width="1.2" height="1.2"/><rect x="335.34" y="401.01" width="1.2" height="1.2"/><rect x="363.56" y="402.25" width="1.2" height="1.2"/><rect x="353.65" y="411.48" width="1.2" height="1.2"/><rect x="363.37" y="409.14" width="1.2" height="1.2"/><rect x="352.50" y="410.11" width="1.2" height="1.2"/><rect x="349.67" y="414.93" width="1.2" height="1.2"/><rect x="330.17" y="413.79" width="1.2" height="1.2"/><rect x="376.59" y="411.42" width="1.2" height="1.2"/><rect x="378.41" y="415.14" width="1.2" height="1.2"/><rect x="354.42" y="416.53" width="1.2" height="1.2"/><rect x="356.71" y="420.43" width="1.2" height="1.2"/><rect x="342.70" y="419.95" width="1.2" height="1.2"/><rect x="374.09" y="408.76" width="1.2" height="1.2"/><rect x="367.99" y="418.38" width="1.2" height="1.2"/><rect x="348.26" y="409.83" width="1.2" height="1.2"/><rect x="359.73" y="413.02" width="1.2" height="1.2"/><rect x="347.67" y="408.64" width="1.2" height="1.2"/><rect x="327.80" y="416.74" width="1.2" height="1.2"/><rect x="360.50" y="413.07" width="1.2" height="1.2"/><rect x="349.74" y="419.85" width="1.2" height="1.2"/><rect x="353.47" y="418.37" width="1.2" height="1.2"/><rect x="361.30" y="418.92" width="1.2" height="1.2"/><rect x="345.73" y="403.49" width="1.2" height="1.2"/><rect x="354.51" y="417.15" width="1.2" height="1.2"/><rect x="352.12" y="410.41" width="1.2" height="1.2"/><rect x="367.28" y="413.15" width="1.2" height="1.2"/><rect x="347.49" y="408.21" width="1.2" height="1.2"/><rect x="352.66" y="414.60" width="1.2" height="1.2"/><rect x="363.08" y="414.13" width="1.2" height="1.2"/><rect x="362.55" y="416.45" width="1.2" height="1.2"/><rect x="350.01" y="408.37" width="1.2" height="1.2"/><rect x="357.29" y="415.48" width="1.2" height="1.2"/><rect x="342.57" y="414.55" width="1.2" height="1.2"/><rect x="353.84" y="411.28" width="1.2" height="1.2"/><rect x="339.51" y="420.00" width="1.2" height="1.2"/><rect x="357.53" y="411.02" width="1.2" height="1.2"/><rect x="361.39" y="405.90" width="1.2" height="1.2"/><rect x="360.36" y="413.68" width="1.2" height="1.2"/><rect x="365.92" y="420.89" width="1.2" height="1.2"/><rect x="351.33" y="410.69" width="1.2" height="1.2"/><rect x="375.88" y="420.94" width="1.2" height="1.2"/><rect x="347.51" y="408.43" width="1.2" height="1.2"/><rect x="355.86" y="413.30" width="1.2" height="1.2"/><rect x="353.54" y="410.92" width="1.2" height="1.2"/><rect x="354.26" y="418.14" width="1.2" height="1.2"/><rect x="359.71" y="415.18" width="1.2" height="1.2"/><rect x="351.31" y="417.82" width="1.2" height="1.2"/><rect x="355.94" y="416.63" width="1.2" height="1.2"/><rect x="347.85" y="414.43" width="1.2" height="1.2"/><rect x="325.84" y="411.80" width="1.2" height="1.2"/><rect x="345.36" y="406.20" width="1.2" height="1.2"/><rect x="364.11" y="414.63" width="1.2" height="1.2"/><rect x="340.35" y="412.78" width="1.2" height="1.2"/><rect x="362.16" y="416.44" width="1.2" height="1.2"/><rect x="355.60" y="416.79" width="1.2" height="1.2"/><rect x="362.33" y="415.13" width="1.2" height="1.2"/><rect x="365.19" y="412.32" width="1.2" height="1.2"/><rect x="357.02" y="418.91" width="1.2" height="1.2"/><rect x="370.56" y="408.06" width="1.2" height="1.2"/><rect x="380.96" y="424.15" width="1.2" height="1.2"/><rect x="354.76" y="415.09" width="1.2" height="1.2"/><rect x="355.80" y="415.28" width="1.2" height="1.2"/><rect x="363.49" y="412.08" width="1.2" height="1.2"/><rect x="368.49" y="417.13" width="1.2" height="1.2"/><rect x="358.16" y="418.29" width="1.2" height="1.2"/><rect x="373.75" y="421.90" width="1.2" height="1.2"/><rect x="354.98" y="413.43" width="1.2" height="1.2"/><rect x="351.21" y="412.45" width="1.2" height="1.2"/><rect x="353.72" y="408.47" width="1.2" height="1.2"/><rect x="341.86" y="411.59" width="1.2" height="1.2"/><rect x="370.29" y="422.44" width="1.2" height="1.2"/><rect x="352.69" y="401.88" width="1.2" height="1.2"/><rect x="359.17" y="412.13" width="1.2" height="1.2"/><rect x="338.22" y="406.79" width="1.2" height="1.2"/><rect x="354.91" y="413.89" width="1.2" height="1.2"/><rect x="358.21" y="415.08" width="1.2" height="1.2"/><rect x="324.91" y="403.23" width="1.2" height="1.2"/><rect x="353.77" y="412.33" width="1.2" height="1.2"/><rect x="356.13" y="419.31" width="1.2" height="1.2"/><rect x="364.55" y="412.68" width="1.2" height="1.2"/><rect x="347.14" y="409.47" width="1.2" height="1.2"/><rect x="357.88" y="422.15" width="1.2" height="1.2"/><rect x="347.37" y="413.93" width="1.2" height="1.2"/><rect x="368.17" y="415.14" width="1.2" height="1.2"/><rect x="354.48" y="412.85" width="1.2" height="1.2"/><rect x="353.62" y="418.86" width="1.2" height="1.2"/><rect x="353.21" y="410.91" width="1.2" height="1.2"/><rect x="371.38" y="420.86" width="1.2" height="1.2"/><rect x="361.68" y="416.93" width="1.2" height="1.2"/><rect x="356.78" y="412.37" width="1.2" height="1.2"/><rect x="360.45" y="417.61" width="1.2" height="1.2"/><rect x="338.20" y="415.16" width="1.2" height="1.2"/><rect x="377.42" y="404.75" width="1.2" height="1.2"/><rect x="363.20" y="412.56" width="1.2" height="1.2"/><rect x="358.11" y="412.45" width="1.2" height="1.2"/><rect x="352.53" y="415.52" width="1.2" height="1.2"/><rect x="364.70" y="409.83" width="1.2" height="1.2"/><rect x="364.11" y="408.75" width="1.2" height="1.2"/><rect x="347.27" y="411.92" width="1.2" height="1.2"/><rect x="347.73" y="408.27" width="1.2" height="1.2"/><rect x="384.02" y="407.70" width="1.2" height="1.2"/><rect x="371.84" y="418.22" width="1.2" height="1.2"/><rect x="360.29" y="418.44" width="1.2" height="1.2"/><rect x="355.14" y="416.33" width="1.2" height="1.2"/><rect x="352.82" y="411.50" width="1.2" height="1.2"/><rect x="342.86" y="407.29" width="1.2" height="1.2"/><rect x="355.01" y="412.24" width="1.2" height="1.2"/><rect x="348.08" y="407.25" width="1.2" height="1.2"/><rect x="356.04" y="418.88" width="1.2" height="1.2"/><rect x="358.32" y="418.76" width="1.2" height="1.2"/><rect x="362.86" y="411.46" width="1.2" height="1.2"/><rect x="340.91" y="417.72" width="1.2" height="1.2"/><rect x="361.50" y="416.46" width="1.2" height="1.2"/><rect x="354.15" y="413.82" width="1.2" height="1.2"/><rect x="346.41" y="414.09" width="1.2" height="1.2"/><rect x="335.30" y="406.70" width="1.2" height="1.2"/><rect x="345.55" y="416.28" width="1.2" height="1.2"/><rect x="359.16" y="417.01" width="1.2" height="1.2"/><rect x="351.96" y="410.77" width="1.2" height="1.2"/><rect x="369.66" y="413.13" width="1.2" height="1.2"/><rect x="341.61" y="405.45" width="1.2" height="1.2"/><rect x="363.69" y="413.13" width="1.2" height="1.2"/><rect x="350.93" y="416.54" width="1.2" height="1.2"/><rect x="331.88" y="404.14" width="1.2" height="1.2"/><rect x="346.29" y="410.10" width="1.2" height="1.2"/><rect x="339.96" y="410.12" width="1.2" height="1.2"/><rect x="355.21" y="413.13" width="1.2" height="1.2"/><rect x="354.13" y="412.58" width="1.2" height="1.2"/><rect x="353.02" y="418.27" width="1.2" height="1.2"/><rect x="361.43" y="413.98" width="1.2" height="1.2"/><rect x="362.41" y="413.17" width="1.2" height="1.2"/><rect x="346.40" y="411.61" width="1.2" height="1.2"/><rect x="347.35" y="412.51" width="1.2" height="1.2"/><rect x="359.13" y="414.46" width="1.2" height="1.2"/><rect x="344.29" y="408.00" width="1.2" height="1.2"/><rect x="358.25" y="407.82" width="1.2" height="1.2"/><rect x="348.46" y="412.38" width="1.2" height="1.2"/><rect x="350.07" y="411.78" width="1.2" height="1.2"/><rect x="351.20" y="409.31" width="1.2" height="1.2"/><rect x="357.71" y="423.00" width="1.2" height="1.2"/><rect x="370.25" y="418.67" width="1.2" height="1.2"/><rect x="350.04" y="406.30" width="1.2" height="1.2"/><rect x="355.15" y="415.40" width="1.2" height="1.2"/><rect x="347.20" y="410.94" width="1.2" height="1.2"/><rect x="350.58" y="411.66" width="1.2" height="1.2"/><rect x="355.03" y="417.21" width="1.2" height="1.2"/><rect x="339.95" y="410.18" width="1.2" height="1.2"/><rect x="353.36" y="410.33" width="1.2" height="1.2"/><rect x="345.40" y="407.78" width="1.2" height="1.2"/><rect x="362.33" y="411.60" width="1.2" height="1.2"/><rect x="350.66" y="410.17" width="1.2" height="1.2"/><rect x="356.74" y="419.13" width="1.2" height="1.2"/><rect x="349.82" y="416.87" width="1.2" height="1.2"/><rect x="372.91" y="417.46" width="1.2" height="1.2"/><rect x="364.93" y="415.31" width="1.2" height="1.2"/><rect x="371.53" y="411.73" width="1.2" height="1.2"/><rect x="355.90" y="414.74" width="1.2" height="1.2"/><rect x="345.74" y="411.53" width="1.2" height="1.2"/><rect x="329.97" y="408.55" width="1.2" height="1.2"/><rect x="362.63" y="415.26" width="1.2" height="1.2"/><rect x="354.18" y="418.11" width="1.2" height="1.2"/><rect x="350.05" y="416.08" width="1.2" height="1.2"/><rect x="356.16" y="407.83" width="1.2" height="1.2"/><rect x="373.66" y="411.35" width="1.2" height="1.2"/><rect x="366.93" y="417.96" width="1.2" height="1.2"/><rect x="353.69" y="414.32" width="1.2" height="1.2"/><rect x="360.77" y="412.03" width="1.2" height="1.2"/><rect x="348.71" y="410.27" width="1.2" height="1.2"/><rect x="354.47" y="406.87" width="1.2" height="1.2"/><rect x="362.30" y="415.55" width="1.2" height="1.2"/><rect x="357.31" y="412.95" width="1.2" height="1.2"/><rect x="354.96" y="411.08" width="1.2" height="1.2"/><rect x="359.37" y="414.34" width="1.2" height="1.2"/><rect x="357.19" y="411.34" width="1.2" height="1.2"/><rect x="355.31" y="409.31" width="1.2" height="1.2"/><rect x="359.30" y="415.26" width="1.2" height="1.2"/><rect x="362.67" y="416.64" width="1.2" height="1.2"/><rect x="378.61" y="408.00" width="1.2" height="1.2"/><rect x="366.46" y="412.89" width="1.2" height="1.2"/><rect x="340.15" y="412.59" width="1.2" height="1.2"/><rect x="360.87" y="416.22" width="1.2" height="1.2"/><rect x="375.01" y="421.38" width="1.2" height="1.2"/><rect x="354.49" y="415.61" width="1.2" height="1.2"/><rect x="359.61" y="413.34" width="1.2" height="1.2"/><rect x="350.57" y="415.54" width="1.2" height="1.2"/><rect x="349.36" y="415.33" width="1.2" height="1.2"/><rect x="362.39" y="407.44" width="1.2" height="1.2"/><rect x="369.99" y="414.96" width="1.2" height="1.2"/><rect x="382.98" y="407.95" width="1.2" height="1.2"/><rect x="364.27" y="408.66" width="1.2" height="1.2"/><rect x="348.47" y="414.81" width="1.2" height="1.2"/><rect x="351.19" y="413.74" width="1.2" height="1.2"/><rect x="362.37" y="411.80" width="1.2" height="1.2"/><rect x="372.73" y="408.86" width="1.2" height="1.2"/><rect x="368.94" y="411.38" width="1.2" height="1.2"/><rect x="351.09" y="403.41" width="1.2" height="1.2"/><rect x="353.98" y="420.89" width="1.2" height="1.2"/><rect x="357.03" y="411.59" width="1.2" height="1.2"/><rect x="345.59" y="417.54" width="1.2" height="1.2"/><rect x="364.33" y="408.29" width="1.2" height="1.2"/><rect x="376.17" y="425.18" width="1.2" height="1.2"/><rect x="345.14" y="404.74" width="1.2" height="1.2"/><rect x="362.34" y="410.52" width="1.2" height="1.2"/><rect x="345.84" y="417.19" width="1.2" height="1.2"/><rect x="361.22" y="410.84" width="1.2" height="1.2"/><rect x="354.42" y="414.52" width="1.2" height="1.2"/><rect x="370.60" y="415.65" width="1.2" height="1.2"/><rect x="357.51" y="413.80" width="1.2" height="1.2"/><rect x="359.50" y="419.25" width="1.2" height="1.2"/><rect x="361.78" y="405.42" width="1.2" height="1.2"/><rect x="341.24" y="405.97" width="1.2" height="1.2"/><rect x="366.49" y="410.82" width="1.2" height="1.2"/><rect x="362.83" y="410.53" width="1.2" height="1.2"/><rect x="339.65" y="407.86" width="1.2" height="1.2"/><rect x="344.90" y="412.25" width="1.2" height="1.2"/><rect x="349.43" y="409.13" width="1.2" height="1.2"/><rect x="339.23" y="418.01" width="1.2" height="1.2"/><rect x="376.95" y="423.93" width="1.2" height="1.2"/><rect x="346.16" y="409.99" width="1.2" height="1.2"/><rect x="348.69" y="413.33" width="1.2" height="1.2"/><rect x="361.35" y="408.03" width="1.2" height="1.2"/><rect x="357.03" y="418.91" width="1.2" height="1.2"/><rect x="360.16" y="424.70" width="1.2" height="1.2"/><rect x="341.54" y="413.71" width="1.2" height="1.2"/><rect x="363.13" y="412.26" width="1.2" height="1.2"/><rect x="347.28" y="417.16" width="1.2" height="1.2"/><rect x="344.03" y="410.59" width="1.2" height="1.2"/><rect x="330.66" y="406.69" width="1.2" height="1.2"/><rect x="364.24" y="411.57" width="1.2" height="1.2"/><rect x="363.63" y="410.05" width="1.2" height="1.2"/><rect x="355.23" y="414.14" width="1.2" height="1.2"/><rect x="370.29" y="410.10" width="1.2" height="1.2"/><rect x="362.45" y="417.66" width="1.2" height="1.2"/><rect x="337.08" y="414.48" width="1.2" height="1.2"/><rect x="352.84" y="416.36" width="1.2" height="1.2"/><rect x="350.43" y="412.78" width="1.2" height="1.2"/><rect x="346.55" y="416.78" width="1.2" height="1.2"/><rect x="355.30" y="417.21" width="1.2" height="1.2"/><rect x="360.04" y="417.77" width="1.2" height="1.2"/><rect x="360.07" y="420.48" width="1.2" height="1.2"/><rect x="354.29" y="404.21" width="1.2" height="1.2"/><rect x="350.53" y="422.88" width="1.2" height="1.2"/><rect x="387.06" y="420.68" width="1.2" height="1.2"/><rect x="357.39" y="413.91" width="1.2" height="1.2"/><rect x="350.90" y="409.79" width="1.2" height="1.2"/><rect x="333.82" y="401.34" width="1.2" height="1.2"/><rect x="355.12" y="410.35" width="1.2" height="1.2"/><rect x="359.40" y="416.50" width="1.2" height="1.2"/><rect x="351.60" y="415.69" width="1.2" height="1.2"/><rect x="359.59" y="414.63" width="1.2" height="1.2"/><rect x="348.54" y="412.21" width="1.2" height="1.2"/><rect x="331.42" y="413.93" width="1.2" height="1.2"/><rect x="364.17" y="412.59" width="1.2" height="1.2"/><rect x="350.09" y="411.36" width="1.2" height="1.2"/><rect x="367.21" y="416.70" width="1.2" height="1.2"/><rect x="343.36" y="414.65" width="1.2" height="1.2"/><rect x="345.97" y="416.32" width="1.2" height="1.2"/><rect x="364.99" y="419.79" width="1.2" height="1.2"/><rect x="372.29" y="415.09" width="1.2" height="1.2"/><rect x="342.03" y="417.72" width="1.2" height="1.2"/><rect x="341.93" y="414.96" width="1.2" height="1.2"/><rect x="341.62" y="409.80" width="1.2" height="1.2"/><rect x="362.05" y="412.75" width="1.2" height="1.2"/><rect x="364.10" y="408.94" width="1.2" height="1.2"/><rect x="350.70" y="409.62" width="1.2" height="1.2"/><rect x="340.51" y="409.71" width="1.2" height="1.2"/><rect x="369.10" y="419.46" width="1.2" height="1.2"/><rect x="366.92" y="415.05" width="1.2" height="1.2"/><rect x="345.66" y="412.06" width="1.2" height="1.2"/><rect x="344.00" y="417.27" width="1.2" height="1.2"/><rect x="343.90" y="406.97" width="1.2" height="1.2"/><rect x="344.83" y="415.02" width="1.2" height="1.2"/><rect x="353.48" y="418.08" width="1.2" height="1.2"/><rect x="341.16" y="417.39" width="1.2" height="1.2"/><rect x="353.06" y="415.88" width="1.2" height="1.2"/><rect x="366.16" y="421.27" width="1.2" height="1.2"/><rect x="355.53" y="414.18" width="1.2" height="1.2"/><rect x="360.64" y="416.72" width="1.2" height="1.2"/><rect x="353.10" y="418.46" width="1.2" height="1.2"/><rect x="383.85" y="408.93" width="1.2" height="1.2"/><rect x="357.92" y="412.56" width="1.2" height="1.2"/><rect x="345.78" y="413.43" width="1.2" height="1.2"/><rect x="363.35" y="409.64" width="1.2" height="1.2"/><rect x="365.14" y="409.83" width="1.2" height="1.2"/><rect x="356.94" y="413.03" width="1.2" height="1.2"/><rect x="355.77" y="413.57" width="1.2" height="1.2"/><rect x="349.60" y="410.43" width="1.2" height="1.2"/><rect x="359.70" y="417.85" width="1.2" height="1.2"/><rect x="367.75" y="413.34" width="1.2" height="1.2"/><rect x="341.28" y="413.69" width="1.2" height="1.2"/><rect x="357.11" y="422.67" width="1.2" height="1.2"/><rect x="351.96" y="409.36" width="1.2" height="1.2"/><rect x="359.33" y="416.10" width="1.2" height="1.2"/><rect x="370.87" y="417.11" width="1.2" height="1.2"/><rect x="369.53" y="415.76" width="1.2" height="1.2"/><rect x="340.39" y="408.64" width="1.2" height="1.2"/><rect x="343.91" y="408.82" width="1.2" height="1.2"/><rect x="371.48" y="412.30" width="1.2" height="1.2"/><rect x="347.00" y="410.97" width="1.2" height="1.2"/><rect x="343.93" y="415.39" width="1.2" height="1.2"/><rect x="359.59" y="407.60" width="1.2" height="1.2"/><rect x="370.85" y="414.88" width="1.2" height="1.2"/><rect x="348.60" y="408.28" width="1.2" height="1.2"/><rect x="372.32" y="411.54" width="1.2" height="1.2"/><rect x="349.20" y="414.29" width="1.2" height="1.2"/><rect x="361.04" y="404.26" width="1.2" height="1.2"/><rect x="376.30" y="414.76" width="1.2" height="1.2"/><rect x="354.74" y="410.19" width="1.2" height="1.2"/><rect x="369.84" y="423.67" width="1.2" height="1.2"/><rect x="351.13" y="420.42" width="1.2" height="1.2"/><rect x="368.41" y="411.89" width="1.2" height="1.2"/><rect x="355.23" y="408.41" width="1.2" height="1.2"/><rect x="341.41" y="408.51" width="1.2" height="1.2"/><rect x="375.66" y="420.14" width="1.2" height="1.2"/><rect x="353.65" y="414.52" width="1.2" height="1.2"/><rect x="332.79" y="413.75" width="1.2" height="1.2"/><rect x="352.76" y="407.67" width="1.2" height="1.2"/><rect x="339.69" y="411.54" width="1.2" height="1.2"/><rect x="350.20" y="410.11" width="1.2" height="1.2"/><rect x="373.70" y="410.90" width="1.2" height="1.2"/><rect x="337.63" y="414.29" width="1.2" height="1.2"/><rect x="355.25" y="406.93" width="1.2" height="1.2"/><rect x="325.77" y="417.66" width="1.2" height="1.2"/><rect x="365.64" y="418.07" width="1.2" height="1.2"/><rect x="353.09" y="411.71" width="1.2" height="1.2"/><rect x="331.57" y="408.16" width="1.2" height="1.2"/><rect x="348.56" y="409.68" width="1.2" height="1.2"/><rect x="355.35" y="412.16" width="1.2" height="1.2"/><rect x="369.75" y="418.11" width="1.2" height="1.2"/><rect x="370.09" y="415.90" width="1.2" height="1.2"/><rect x="351.49" y="407.01" width="1.2" height="1.2"/><rect x="359.77" y="412.55" width="1.2" height="1.2"/><rect x="356.24" y="411.46" width="1.2" height="1.2"/><rect x="346.07" y="412.01" width="1.2" height="1.2"/><rect x="363.83" y="412.21" width="1.2" height="1.2"/><rect x="354.36" y="425.04" width="1.2" height="1.2"/><rect x="364.95" y="411.34" width="1.2" height="1.2"/><rect x="357.09" y="405.49" width="1.2" height="1.2"/><rect x="360.50" y="410.54" width="1.2" height="1.2"/><rect x="368.66" y="411.14" width="1.2" height="1.2"/><rect x="354.05" y="408.87" width="1.2" height="1.2"/><rect x="364.81" y="405.94" width="1.2" height="1.2"/><rect x="366.03" y="421.21" width="1.2" height="1.2"/><rect x="349.79" y="413.60" width="1.2" height="1.2"/><rect x="343.86" y="412.53" width="1.2" height="1.2"/><rect x="346.52" y="415.36" width="1.2" height="1.2"/><rect x="347.16" y="410.38" width="1.2" height="1.2"/><rect x="329.84" y="420.57" width="1.2" height="1.2"/><rect x="366.48" y="419.80" width="1.2" height="1.2"/><rect x="340.82" y="416.03" width="1.2" height="1.2"/><rect x="360.52" y="413.98" width="1.2" height="1.2"/><rect x="351.63" y="417.45" width="1.2" height="1.2"/><rect x="367.66" y="412.61" width="1.2" height="1.2"/><rect x="366.79" y="412.67" width="1.2" height="1.2"/><rect x="363.30" y="409.87" width="1.2" height="1.2"/><rect x="348.25" y="410.42" width="1.2" height="1.2"/><rect x="366.06" y="414.42" width="1.2" height="1.2"/><rect x="349.79" y="412.32" width="1.2" height="1.2"/><rect x="343.77" y="404.47" width="1.2" height="1.2"/><rect x="376.02" y="414.80" width="1.2" height="1.2"/><rect x="358.97" y="413.41" width="1.2" height="1.2"/><rect x="362.22" y="413.15" width="1.2" height="1.2"/><rect x="363.92" y="414.12" width="1.2" height="1.2"/><rect x="331.72" y="405.00" width="1.2" height="1.2"/><rect x="356.09" y="415.20" width="1.2" height="1.2"/><rect x="381.17" y="423.37" width="1.2" height="1.2"/><rect x="362.50" y="410.87" width="1.2" height="1.2"/><rect x="363.57" y="413.13" width="1.2" height="1.2"/><rect x="379.10" y="419.79" width="1.2" height="1.2"/><rect x="372.70" y="420.69" width="1.2" height="1.2"/><rect x="359.64" y="416.14" width="1.2" height="1.2"/><rect x="339.44" y="405.70" width="1.2" height="1.2"/><rect x="352.66" y="408.31" width="1.2" height="1.2"/><rect x="360.11" y="411.92" width="1.2" height="1.2"/><rect x="357.25" y="414.88" width="1.2" height="1.2"/><rect x="356.11" y="411.11" width="1.2" height="1.2"/><rect x="343.87" y="409.74" width="1.2" height="1.2"/><rect x="352.85" y="412.57" width="1.2" height="1.2"/><rect x="348.42" y="413.47" width="1.2" height="1.2"/><rect x="355.76" y="423.28" width="1.2" height="1.2"/><rect x="363.16" y="416.04" width="1.2" height="1.2"/><rect x="346.38" y="417.19" width="1.2" height="1.2"/><rect x="345.99" y="406.15" width="1.2" height="1.2"/><rect x="333.54" y="410.51" width="1.2" height="1.2"/><rect x="356.69" y="415.04" width="1.2" height="1.2"/><rect x="352.45" y="414.01" width="1.2" height="1.2"/><rect x="343.45" y="413.91" width="1.2" height="1.2"/><rect x="360.75" y="412.56" width="1.2" height="1.2"/><rect x="351.62" y="415.53" width="1.2" height="1.2"/><rect x="350.27" y="406.86" width="1.2" height="1.2"/><rect x="358.91" y="413.89" width="1.2" height="1.2"/><rect x="349.39" y="409.79" width="1.2" height="1.2"/><rect x="370.36" y="416.95" width="1.2" height="1.2"/><rect x="366.52" y="417.68" width="1.2" height="1.2"/><rect x="345.70" y="411.75" width="1.2" height="1.2"/><rect x="335.08" y="414.13" width="1.2" height="1.2"/><rect x="355.04" y="412.80" width="1.2" height="1.2"/><rect x="349.49" y="413.77" width="1.2" height="1.2"/><rect x="343.15" y="401.32" width="1.2" height="1.2"/><rect x="353.01" y="417.97" width="1.2" height="1.2"/><rect x="342.99" y="414.82" width="1.2" height="1.2"/><rect x="356.36" y="414.23" width="1.2" height="1.2"/><rect x="375.04" y="414.64" width="1.2" height="1.2"/><rect x="343.75" y="411.70" width="1.2" height="1.2"/><rect x="349.20" y="408.74" width="1.2" height="1.2"/><rect x="345.67" y="424.34" width="1.2" height="1.2"/><rect x="346.58" y="412.57" width="1.2" height="1.2"/><rect x="364.17" y="417.78" width="1.2" height="1.2"/><rect x="350.82" y="406.34" width="1.2" height="1.2"/><rect x="353.06" y="413.81" width="1.2" height="1.2"/><rect x="352.96" y="409.54" width="1.2" height="1.2"/><rect x="339.21" y="417.72" width="1.2" height="1.2"/><rect x="364.18" y="413.43" width="1.2" height="1.2"/><rect x="366.83" y="417.31" width="1.2" height="1.2"/><rect x="348.94" y="409.90" width="1.2" height="1.2"/><rect x="352.93" y="410.08" width="1.2" height="1.2"/><rect x="354.03" y="412.60" width="1.2" height="1.2"/><rect x="343.04" y="417.39" width="1.2" height="1.2"/><rect x="341.30" y="422.45" width="1.2" height="1.2"/><rect x="367.07" y="408.76" width="1.2" height="1.2"/><rect x="332.83" y="400.08" width="1.2" height="1.2"/><rect x="358.07" y="417.31" width="1.2" height="1.2"/><rect x="349.76" y="415.31" width="1.2" height="1.2"/><rect x="348.85" y="410.99" width="1.2" height="1.2"/><rect x="343.51" y="411.66" width="1.2" height="1.2"/><rect x="351.37" y="410.64" width="1.2" height="1.2"/><rect x="351.86" y="418.58" width="1.2" height="1.2"/><rect x="357.76" y="406.75" width="1.2" height="1.2"/><rect x="364.22" y="412.05" width="1.2" height="1.2"/><rect x="352.06" y="416.10" width="1.2" height="1.2"/><rect x="361.29" y="407.90" width="1.2" height="1.2"/><rect x="358.04" y="419.16" width="1.2" height="1.2"/><rect x="351.39" y="415.69" width="1.2" height="1.2"/><rect x="353.38" y="409.06" width="1.2" height="1.2"/><rect x="357.28" y="408.19" width="1.2" height="1.2"/><rect x="339.80" y="404.99" width="1.2" height="1.2"/><rect x="362.47" y="415.01" width="1.2" height="1.2"/><rect x="365.30" y="413.05" width="1.2" height="1.2"/><rect x="379.80" y="413.54" width="1.2" height="1.2"/><rect x="352.11" y="414.10" width="1.2" height="1.2"/><rect x="353.05" y="406.42" width="1.2" height="1.2"/><rect x="353.08" y="416.80" width="1.2" height="1.2"/><rect x="376.52" y="408.73" width="1.2" height="1.2"/><rect x="340.45" y="413.55" width="1.2" height="1.2"/><rect x="360.18" y="413.16" width="1.2" height="1.2"/><rect x="350.39" y="420.27" width="1.2" height="1.2"/><rect x="340.64" y="420.79" width="1.2" height="1.2"/><rect x="345.97" y="413.59" width="1.2" height="1.2"/><rect x="349.29" y="414.32" width="1.2" height="1.2"/><rect x="340.96" y="413.52" width="1.2" height="1.2"/><rect x="354.34" y="413.60" width="1.2" height="1.2"/><rect x="353.40" y="413.15" width="1.2" height="1.2"/><rect x="354.98" y="409.80" width="1.2" height="1.2"/><rect x="347.81" y="409.69" width="1.2" height="1.2"/><rect x="348.61" y="407.98" width="1.2" height="1.2"/><rect x="359.97" y="420.08" width="1.2" height="1.2"/><rect x="356.39" y="420.38" width="1.2" height="1.2"/><rect x="353.30" y="413.64" width="1.2" height="1.2"/><rect x="346.71" y="408.31" width="1.2" height="1.2"/><rect x="358.97" y="415.08" width="1.2" height="1.2"/><rect x="346.84" y="413.77" width="1.2" height="1.2"/><rect x="358.67" y="411.29" width="1.2" height="1.2"/><rect x="352.57" y="413.39" width="1.2" height="1.2"/><rect x="358.62" y="409.31" width="1.2" height="1.2"/><rect x="349.57" y="414.11" width="1.2" height="1.2"/><rect x="359.22" y="403.01" width="1.2" height="1.2"/><rect x="341.87" y="415.67" width="1.2" height="1.2"/><rect x="353.44" y="418.67" width="1.2" height="1.2"/><rect x="358.41" y="413.26" width="1.2" height="1.2"/><rect x="354.54" y="413.14" width="1.2" height="1.2"/><rect x="361.82" y="415.52" width="1.2" height="1.2"/><rect x="346.81" y="411.95" width="1.2" height="1.2"/><rect x="343.69" y="411.48" width="1.2" height="1.2"/><rect x="358.46" y="411.49" width="1.2" height="1.2"/><rect x="346.26" y="415.90" width="1.2" height="1.2"/><rect x="343.57" y="410.00" width="1.2" height="1.2"/><rect x="362.89" y="412.87" width="1.2" height="1.2"/><rect x="348.12" y="408.62" width="1.2" height="1.2"/><rect x="345.99" y="417.99" width="1.2" height="1.2"/><rect x="334.37" y="415.13" width="1.2" height="1.2"/><rect x="349.93" y="413.63" width="1.2" height="1.2"/><rect x="346.43" y="406.90" width="1.2" height="1.2"/><rect x="356.16" y="419.27" width="1.2" height="1.2"/><rect x="358.79" y="410.40" width="1.2" height="1.2"/><rect x="364.36" y="414.66" width="1.2" height="1.2"/><rect x="345.50" y="404.43" width="1.2" height="1.2"/><rect x="348.39" y="412.66" width="1.2" height="1.2"/><rect x="345.74" y="407.69" width="1.2" height="1.2"/><rect x="351.34" y="411.07" width="1.2" height="1.2"/><rect x="362.51" y="419.55" width="1.2" height="1.2"/><rect x="349.71" y="411.81" width="1.2" height="1.2"/><rect x="350.72" y="411.24" width="1.2" height="1.2"/><rect x="349.39" y="408.38" width="1.2" height="1.2"/><rect x="357.90" y="406.24" width="1.2" height="1.2"/><rect x="338.19" y="413.51" width="1.2" height="1.2"/><rect x="354.57" y="409.57" width="1.2" height="1.2"/><rect x="371.19" y="413.46" width="1.2" height="1.2"/><rect x="369.91" y="419.25" width="1.2" height="1.2"/><rect x="376.92" y="411.51" width="1.2" height="1.2"/><rect x="351.34" y="423.14" width="1.2" height="1.2"/><rect x="359.64" y="409.69" width="1.2" height="1.2"/><rect x="362.04" y="411.31" width="1.2" height="1.2"/><rect x="347.71" y="405.90" width="1.2" height="1.2"/><rect x="363.34" y="425.11" width="1.2" height="1.2"/><rect x="362.62" y="414.30" width="1.2" height="1.2"/><rect x="365.97" y="416.29" width="1.2" height="1.2"/><rect x="358.51" y="415.81" width="1.2" height="1.2"/><rect x="371.91" y="411.10" width="1.2" height="1.2"/><rect x="369.85" y="414.17" width="1.2" height="1.2"/><rect x="348.06" y="424.55" width="1.2" height="1.2"/><rect x="353.24" y="408.85" width="1.2" height="1.2"/><rect x="364.79" y="411.99" width="1.2" height="1.2"/><rect x="359.58" y="411.12" width="1.2" height="1.2"/><rect x="329.80" y="412.43" width="1.2" height="1.2"/><rect x="361.97" y="422.03" width="1.2" height="1.2"/><rect x="353.84" y="406.20" width="1.2" height="1.2"/><rect x="351.27" y="409.24" width="1.2" height="1.2"/><rect x="359.06" y="421.95" width="1.2" height="1.2"/><rect x="343.57" y="411.48" width="1.2" height="1.2"/><rect x="354.74" y="407.12" width="1.2" height="1.2"/><rect x="348.26" y="415.20" width="1.2" height="1.2"/><rect x="352.90" y="407.61" width="1.2" height="1.2"/><rect x="349.14" y="412.02" width="1.2" height="1.2"/><rect x="337.58" y="412.25" width="1.2" height="1.2"/><rect x="361.81" y="422.03" width="1.2" height="1.2"/><rect x="355.97" y="411.62" width="1.2" height="1.2"/><rect x="347.45" y="409.12" width="1.2" height="1.2"/><rect x="348.72" y="411.12" width="1.2" height="1.2"/><rect x="370.87" y="414.74" width="1.2" height="1.2"/><rect x="360.06" y="409.61" width="1.2" height="1.2"/><rect x="349.17" y="410.31" width="1.2" height="1.2"/><rect x="346.92" y="422.68" width="1.2" height="1.2"/><rect x="342.88" y="402.57" width="1.2" height="1.2"/><rect x="343.87" y="404.06" width="1.2" height="1.2"/><rect x="362.04" y="415.86" width="1.2" height="1.2"/><rect x="358.25" y="415.32" width="1.2" height="1.2"/><rect x="348.18" y="414.26" width="1.2" height="1.2"/><rect x="349.12" y="411.27" width="1.2" height="1.2"/><rect x="344.77" y="410.98" width="1.2" height="1.2"/><rect x="355.28" y="412.44" width="1.2" height="1.2"/><rect x="355.66" y="414.49" width="1.2" height="1.2"/><rect x="338.24" y="408.26" width="1.2" height="1.2"/><rect x="355.93" y="410.11" width="1.2" height="1.2"/><rect x="356.95" y="420.28" width="1.2" height="1.2"/><rect x="343.02" y="416.22" width="1.2" height="1.2"/><rect x="345.64" y="407.73" width="1.2" height="1.2"/><rect x="340.20" y="409.59" width="1.2" height="1.2"/><rect x="364.26" y="407.92" width="1.2" height="1.2"/><rect x="354.44" y="414.38" width="1.2" height="1.2"/><rect x="363.54" y="415.98" width="1.2" height="1.2"/><rect x="351.23" y="416.28" width="1.2" height="1.2"/><rect x="357.93" y="407.80" width="1.2" height="1.2"/><rect x="354.60" y="413.37" width="1.2" height="1.2"/><rect x="365.46" y="417.50" width="1.2" height="1.2"/><rect x="364.24" y="413.85" width="1.2" height="1.2"/><rect x="354.81" y="409.32" width="1.2" height="1.2"/><rect x="344.69" y="414.84" width="1.2" height="1.2"/><rect x="364.84" y="412.66" width="1.2" height="1.2"/><rect x="339.87" y="413.66" width="1.2" height="1.2"/><rect x="345.50" y="412.47" width="1.2" height="1.2"/><rect x="361.70" y="411.41" width="1.2" height="1.2"/><rect x="339.52" y="409.07" width="1.2" height="1.2"/><rect x="354.76" y="417.43" width="1.2" height="1.2"/><rect x="366.49" y="416.73" width="1.2" height="1.2"/><rect x="356.73" y="413.03" width="1.2" height="1.2"/><rect x="335.72" y="403.09" width="1.2" height="1.2"/><rect x="359.69" y="415.65" width="1.2" height="1.2"/><rect x="353.08" y="409.07" width="1.2" height="1.2"/><rect x="342.76" y="404.94" width="1.2" height="1.2"/><rect x="346.79" y="413.20" width="1.2" height="1.2"/><rect x="351.90" y="414.21" width="1.2" height="1.2"/><rect x="348.55" y="421.74" width="1.2" height="1.2"/><rect x="338.37" y="409.37" width="1.2" height="1.2"/><rect x="353.99" y="411.54" width="1.2" height="1.2"/><rect x="377.18" y="416.73" width="1.2" height="1.2"/><rect x="358.34" y="416.51" width="1.2" height="1.2"/><rect x="350.36" y="413.38" width="1.2" height="1.2"/><rect x="346.95" y="420.85" width="1.2" height="1.2"/><rect x="348.32" y="413.25" width="1.2" height="1.2"/><rect x="345.37" y="419.07" width="1.2" height="1.2"/><rect x="335.51" y="416.62" width="1.2" height="1.2"/><rect x="356.49" y="413.78" width="1.2" height="1.2"/><rect x="358.75" y="411.68" width="1.2" height="1.2"/><rect x="355.00" y="410.14" width="1.2" height="1.2"/><rect x="344.79" y="411.42" width="1.2" height="1.2"/><rect x="362.87" y="411.37" width="1.2" height="1.2"/><rect x="352.31" y="413.14" width="1.2" height="1.2"/><rect x="361.14" y="412.11" width="1.2" height="1.2"/><rect x="353.58" y="411.58" width="1.2" height="1.2"/><rect x="363.82" y="416.86" width="1.2" height="1.2"/><rect x="368.25" y="415.03" width="1.2" height="1.2"/><rect x="352.78" y="412.83" width="1.2" height="1.2"/><rect x="355.05" y="414.40" width="1.2" height="1.2"/><rect x="358.20" y="417.30" width="1.2" height="1.2"/><rect x="358.53" y="410.05" width="1.2" height="1.2"/></g>
<line x1="327.70" y1="410.60" x2="393.80" y2="417.70" stroke="#15407e" stroke-width="1.7" stroke-linecap="round"/>
<text x="265.85" y="15.50" font-size="10.6" font-weight="bold" fill="#000">B</text>
<text x="328.00" y="18.30" font-size="9" textLength="64.90" lengthAdjust="spacingAndGlyphs">HOVON dataset</text>
<text x="337.50" y="28.30" font-size="9" font-style="italic" textLength="45.70" lengthAdjust="spacingAndGlyphs">IDO1-BIN1</text>
<text x="352.50" y="51.80" font-size="7.5" textLength="58.50" lengthAdjust="spacingAndGlyphs">X<tspan font-size="4.5" dy="-3">2</tspan><tspan dy="3">=10.59, </tspan><tspan font-style="italic">P</tspan>&lt;0.01</text>
<line x1="422.30" y1="40.90" x2="429.60" y2="40.90" stroke="#3cab3a" stroke-width="1.8"/>
<text x="432.50" y="43.40" font-size="7.2">Low score</text>
<line x1="422.30" y1="50.30" x2="429.60" y2="50.30" stroke="#15407e" stroke-width="1.8"/>
<text x="432.50" y="52.80" font-size="7.2" textLength="56.50" lengthAdjust="spacingAndGlyphs">Intermediate score</text>
<line x1="422.30" y1="59.80" x2="429.60" y2="59.80" stroke="#c8102e" stroke-width="1.8"/>
<text x="432.50" y="62.30" font-size="7.2">High score</text>
<text x="419.80" y="75.90" font-size="6.2" font-weight="bold" textLength="80.80" lengthAdjust="spacingAndGlyphs">Median OS survival (Years)</text>
<line x1="419.80" y1="77.20" x2="500.60" y2="77.20" stroke="#1b1b1b" stroke-width="0.7"/>
<text x="419.80" y="85.10" font-size="6.2">Low score = 1.9</text>
<text x="419.80" y="93.80" font-size="6.2">Interm. score = 1.8</text>
<text x="419.80" y="102.90" font-size="6.2">High score = 1.2</text>
<line x1="308.30" y1="76.28" x2="413.50" y2="76.28" stroke="#c6c6c6" stroke-width="1"/>
<line x1="308.30" y1="38.30" x2="308.30" y2="111.30" stroke="#1a1a1a" stroke-width="1.5"/>
<line x1="308.30" y1="108.30" x2="414.00" y2="108.30" stroke="#1a1a1a" stroke-width="1.5"/>
<line x1="305.30" y1="44.25" x2="308.30" y2="44.25" stroke="#1a1a1a" stroke-width="1.1"/>
<text x="302.60" y="46.45" font-size="7.5" text-anchor="end" textLength="13.60" lengthAdjust="spacingAndGlyphs">100</text>
<line x1="305.30" y1="76.28" x2="308.30" y2="76.28" stroke="#1a1a1a" stroke-width="1.1"/>
<text x="302.60" y="78.48" font-size="7.5" text-anchor="end" textLength="8.90" lengthAdjust="spacingAndGlyphs">50</text>
<line x1="305.30" y1="108.30" x2="308.30" y2="108.30" stroke="#1a1a1a" stroke-width="1.1"/>
<text x="302.60" y="110.50" font-size="7.5" text-anchor="end" textLength="4.20" lengthAdjust="spacingAndGlyphs">0</text>
<line x1="308.30" y1="108.30" x2="308.30" y2="111.30" stroke="#1a1a1a" stroke-width="1.1"/>
<text x="308.30" y="120.50" font-size="7.5" text-anchor="middle" textLength="4.20" lengthAdjust="spacingAndGlyphs">0</text>
<line x1="334.60" y1="108.30" x2="334.60" y2="111.30" stroke="#1a1a1a" stroke-width="1.1"/>
<text x="334.60" y="120.50" font-size="7.5" text-anchor="middle" textLength="4.20" lengthAdjust="spacingAndGlyphs">5</text>
<line x1="360.90" y1="108.30" x2="360.90" y2="111.30" stroke="#1a1a1a" stroke-width="1.1"/>
<text x="360.90" y="120.50" font-size="7.5" text-anchor="middle" textLength="8.90" lengthAdjust="spacingAndGlyphs">10</text>
<line x1="387.20" y1="108.30" x2="387.20" y2="111.30" stroke="#1a1a1a" stroke-width="1.1"/>
<text x="387.20" y="120.50" font-size="7.5" text-anchor="middle" textLength="8.90" lengthAdjust="spacingAndGlyphs">15</text>
<line x1="413.50" y1="108.30" x2="413.50" y2="111.30" stroke="#1a1a1a" stroke-width="1.1"/>
<text x="413.50" y="120.50" font-size="7.5" text-anchor="middle" textLength="8.90" lengthAdjust="spacingAndGlyphs">20</text>
<text transform="translate(284.00,73.10) rotate(-90)" x="0" y="0" font-size="8.9" text-anchor="middle" style="stroke-width:0.2px" textLength="44.20" lengthAdjust="spacingAndGlyphs">Percent survival</text>
<text x="321.25" y="132.40" font-size="8.6" textLength="78.75" lengthAdjust="spacingAndGlyphs" style="stroke-width:0.25px">Overall survival time (years)</text>
<polyline points="308.00,50.96 308.46,55.00 310.19,63.08 311.92,70.00 313.65,76.92 315.38,82.69 316.54,85.58 320.00,87.31 324.61,89.04 329.23,89.84 337.31,89.84 345.38,90.19 345.61,92.50 352.31,92.84 352.54,94.00 378.90,94.00" fill="none" stroke="#c8102e" stroke-width="1.6" stroke-linejoin="round"/>
<polyline points="308.23,45.19 309.62,51.54 311.35,57.31 313.08,64.23 314.81,70.00 316.54,74.61 318.85,78.08 322.31,80.38 328.08,82.69 333.85,83.84 339.61,84.77 351.15,85.00 371.70,85.60 371.70,86.80 402.30,86.80" fill="none" stroke="#15407e" stroke-width="1.6" stroke-linejoin="round"/>
<polyline points="308.23,44.62 309.62,50.38 310.77,55.00 311.92,59.61 313.08,64.23 314.23,68.85 315.96,73.46 317.69,75.77 320.00,77.15 323.46,78.65 328.08,80.61 332.69,82.11 338.46,83.27 366.50,83.10 366.50,84.80 406.70,84.80" fill="none" stroke="#3cab3a" stroke-width="1.6" stroke-linejoin="round"/>
<text x="235.75" y="143.80" font-size="7.6" font-weight="bold" textLength="58.50" lengthAdjust="spacingAndGlyphs">Numbers at risk</text>
<line x1="235.75" y1="145.10" x2="294.25" y2="145.10" stroke="#1b1b1b" stroke-width="0.7"/>
<text x="235.75" y="155.10" font-size="7.6">Low score</text>
<text x="315.00" y="155.10" font-size="7.6" text-anchor="end" textLength="13.50" lengthAdjust="spacingAndGlyphs">143</text>
<text x="339.40" y="155.10" font-size="7.6" text-anchor="end" textLength="9.00" lengthAdjust="spacingAndGlyphs">56</text>
<text x="365.80" y="155.10" font-size="7.6" text-anchor="end" textLength="9.00" lengthAdjust="spacingAndGlyphs">36</text>
<text x="390.20" y="155.10" font-size="7.6" text-anchor="end" textLength="4.50" lengthAdjust="spacingAndGlyphs">3</text>
<text x="415.20" y="155.10" font-size="7.6" text-anchor="end" textLength="4.50" lengthAdjust="spacingAndGlyphs">0</text>
<text x="235.75" y="164.20" font-size="7.6" textLength="42.50" lengthAdjust="spacingAndGlyphs">Interm. score</text>
<text x="315.00" y="164.20" font-size="7.6" text-anchor="end" textLength="13.50" lengthAdjust="spacingAndGlyphs">286</text>
<text x="339.40" y="164.20" font-size="7.6" text-anchor="end" textLength="9.00" lengthAdjust="spacingAndGlyphs">99</text>
<text x="365.80" y="164.20" font-size="7.6" text-anchor="end" textLength="9.00" lengthAdjust="spacingAndGlyphs">38</text>
<text x="390.20" y="164.20" font-size="7.6" text-anchor="end" textLength="4.50" lengthAdjust="spacingAndGlyphs">7</text>
<text x="415.20" y="164.20" font-size="7.6" text-anchor="end" textLength="4.50" lengthAdjust="spacingAndGlyphs">0</text>
<text x="235.75" y="173.20" font-size="7.6">High score</text>
<text x="315.00" y="173.20" font-size="7.6" text-anchor="end" textLength="13.50" lengthAdjust="spacingAndGlyphs">143</text>
<text x="339.40" y="173.20" font-size="7.6" text-anchor="end" textLength="9.00" lengthAdjust="spacingAndGlyphs">36</text>
<text x="365.80" y="173.20" font-size="7.6" text-anchor="end" textLength="4.50" lengthAdjust="spacingAndGlyphs">9</text>
<text x="390.20" y="173.20" font-size="7.6" text-anchor="end" textLength="4.50" lengthAdjust="spacingAndGlyphs">1</text>
<text x="415.20" y="173.20" font-size="7.6" text-anchor="end" textLength="4.50" lengthAdjust="spacingAndGlyphs">0</text>
<text x="9.10" y="195.75" font-size="10.6" font-weight="bold" fill="#000">C</text>
<text x="65.50" y="205.30" font-size="9" textLength="90.75" lengthAdjust="spacingAndGlyphs">Training cohort (TCGA)</text>
<line x1="168.25" y1="212.50" x2="175.55" y2="212.50" stroke="#15407e" stroke-width="1.8"/>
<text x="178.75" y="215.00" font-size="7.2" textLength="48.25" lengthAdjust="spacingAndGlyphs"><tspan font-style="italic">IDO2</tspan> <tspan font-size="1.35em">&lt;</tspan> median</text>
<line x1="168.25" y1="222.50" x2="175.55" y2="222.50" stroke="#c8102e" stroke-width="1.8"/>
<text x="178.75" y="225.00" font-size="7.2" textLength="48.25" lengthAdjust="spacingAndGlyphs"><tspan font-style="italic">IDO2</tspan> <tspan font-size="1.35em">&gt;</tspan> median</text>
<text x="111.70" y="233.30" font-size="7.5" textLength="50.80" lengthAdjust="spacingAndGlyphs">X<tspan font-size="4.5" dy="-3">2</tspan><tspan dy="3">=3.9, </tspan><tspan font-style="italic">P</tspan>&lt;0.05</text>
<text x="168.30" y="238.10" font-size="6.2" font-weight="bold" textLength="78.70" lengthAdjust="spacingAndGlyphs">Median OS survival (years)</text>
<line x1="168.30" y1="239.40" x2="247.00" y2="239.40" stroke="#1b1b1b" stroke-width="0.7"/>
<text x="168.30" y="248.60" font-size="6.2"><tspan font-style="italic">IDO2</tspan> <tspan font-size="1.35em">&lt;</tspan> median = 2.5</text>
<text x="168.30" y="258.10" font-size="6.2"><tspan font-style="italic">IDO2</tspan> <tspan font-size="1.35em">&gt;</tspan> median = 1.0</text>
<line x1="58.60" y1="248.15" x2="165.10" y2="248.15" stroke="#c6c6c6" stroke-width="1"/>
<line x1="58.60" y1="210.00" x2="58.60" y2="283.00" stroke="#1a1a1a" stroke-width="1.5"/>
<line x1="58.60" y1="280.00" x2="165.60" y2="280.00" stroke="#1a1a1a" stroke-width="1.5"/>
<line x1="55.60" y1="216.30" x2="58.60" y2="216.30" stroke="#1a1a1a" stroke-width="1.1"/>
<text x="53.20" y="218.50" font-size="7.5" text-anchor="end" textLength="13.60" lengthAdjust="spacingAndGlyphs">100</text>
<line x1="55.60" y1="248.15" x2="58.60" y2="248.15" stroke="#1a1a1a" stroke-width="1.1"/>
<text x="53.20" y="250.35" font-size="7.5" text-anchor="end" textLength="8.90" lengthAdjust="spacingAndGlyphs">50</text>
<line x1="55.60" y1="280.00" x2="58.60" y2="280.00" stroke="#1a1a1a" stroke-width="1.1"/>
<text x="53.20" y="282.20" font-size="7.5" text-anchor="end" textLength="4.20" lengthAdjust="spacingAndGlyphs">0</text>
<line x1="58.60" y1="280.00" x2="58.60" y2="283.00" stroke="#1a1a1a" stroke-width="1.1"/>
<text x="58.60" y="292.20" font-size="7.5" text-anchor="middle" textLength="4.20" lengthAdjust="spacingAndGlyphs">0</text>
<line x1="111.85" y1="280.00" x2="111.85" y2="283.00" stroke="#1a1a1a" stroke-width="1.1"/>
<text x="111.85" y="292.20" font-size="7.5" text-anchor="middle" textLength="4.20" lengthAdjust="spacingAndGlyphs">5</text>
<line x1="165.10" y1="280.00" x2="165.10" y2="283.00" stroke="#1a1a1a" stroke-width="1.1"/>
<text x="165.10" y="292.20" font-size="7.5" text-anchor="middle" textLength="8.90" lengthAdjust="spacingAndGlyphs">10</text>
<text transform="translate(34.30,245.00) rotate(-90)" x="0" y="0" font-size="8.9" text-anchor="middle" style="stroke-width:0.2px" textLength="44.20" lengthAdjust="spacingAndGlyphs">Percent survival</text>
<text x="72.00" y="303.90" font-size="8.6" textLength="78.00" lengthAdjust="spacingAndGlyphs" style="stroke-width:0.25px">Overall survival time (years)</text>
<polyline points="58.81,216.92 60.19,218.08 61.92,219.23 63.08,221.54 63.65,225.00 64.81,233.08 65.96,240.00 67.11,245.77 68.27,249.81 69.42,252.11 71.15,253.27 72.31,255.00 74.04,255.00 75.19,256.15 79.23,256.73 81.54,257.31 82.11,259.61 104.61,259.61 104.84,263.65 162.50,263.70" fill="none" stroke="#c8102e" stroke-width="1.6" stroke-linejoin="round"/>
<polyline points="58.81,216.92 60.19,218.65 61.35,219.81 62.50,220.96 63.65,222.11 64.81,224.42 65.38,226.73 65.96,228.46 67.11,228.46 67.69,230.19 68.85,233.08 71.15,233.65 72.88,234.23 74.04,236.54 75.19,238.85 76.92,240.58 78.65,241.73 79.81,242.88 80.96,244.61 82.69,246.92 84.42,248.65 86.15,250.38 87.31,250.96 98.27,250.96 99.42,253.27 101.15,253.84 105.19,253.84 106.34,255.58 108.07,259.04 109.81,259.84 146.80,259.80" fill="none" stroke="#15407e" stroke-width="1.6" stroke-linejoin="round"/>
<text x="3.75" y="316.90" font-size="7.6" font-weight="bold" textLength="49.50" lengthAdjust="spacingAndGlyphs">Numbers at risk</text>
<line x1="3.75" y1="318.20" x2="53.25" y2="318.20" stroke="#1b1b1b" stroke-width="0.7"/>
<text x="4.00" y="327.60" font-size="7.2" textLength="44.00" lengthAdjust="spacingAndGlyphs"><tspan font-style="italic">IDO2</tspan> <tspan font-size="1.35em">&lt;</tspan> median</text>
<text x="64.30" y="327.60" font-size="7.6" text-anchor="end" textLength="9.00" lengthAdjust="spacingAndGlyphs">76</text>
<text x="117.00" y="327.60" font-size="7.6" text-anchor="end" textLength="9.00" lengthAdjust="spacingAndGlyphs">10</text>
<text x="168.20" y="327.60" font-size="7.6" text-anchor="end" textLength="4.50" lengthAdjust="spacingAndGlyphs">0</text>
<text x="4.00" y="335.80" font-size="7.2" textLength="44.00" lengthAdjust="spacingAndGlyphs"><tspan font-style="italic">IDO2</tspan> <tspan font-size="1.35em">&gt;</tspan> median</text>
<text x="64.30" y="335.80" font-size="7.6" text-anchor="end" textLength="9.00" lengthAdjust="spacingAndGlyphs">47</text>
<text x="117.00" y="335.80" font-size="7.6" text-anchor="end" textLength="4.50" lengthAdjust="spacingAndGlyphs">5</text>
<text x="168.20" y="335.80" font-size="7.6" text-anchor="end" textLength="4.50" lengthAdjust="spacingAndGlyphs">0</text>
<text x="265.10" y="195.75" font-size="10.6" font-weight="bold" fill="#000">D</text>
<text x="320.75" y="205.30" font-size="9" textLength="91.00" lengthAdjust="spacingAndGlyphs">Training cohort (TCGA)</text>
<line x1="432.50" y1="212.70" x2="439.80" y2="212.70" stroke="#15407e" stroke-width="1.8"/>
<text x="443.30" y="215.20" font-size="7.2" textLength="58.40" lengthAdjust="spacingAndGlyphs"><tspan font-style="italic">PLXNC1</tspan> <tspan font-size="1.35em">&lt;</tspan> median</text>
<line x1="432.50" y1="222.30" x2="439.80" y2="222.30" stroke="#c8102e" stroke-width="1.8"/>
<text x="443.30" y="224.80" font-size="7.2" textLength="58.40" lengthAdjust="spacingAndGlyphs"><tspan font-style="italic">PLXNC1</tspan> <tspan font-size="1.35em">&gt;</tspan> median</text>
<text x="370.00" y="232.90" font-size="7.5" textLength="50.40" lengthAdjust="spacingAndGlyphs">X<tspan font-size="4.5" dy="-3">2</tspan><tspan dy="3">=5.4, </tspan><tspan font-style="italic">P</tspan>&lt;0.05</text>
<text x="433.00" y="238.30" font-size="6.2" font-weight="bold" textLength="79.00" lengthAdjust="spacingAndGlyphs">Median OS survival (years)</text>
<line x1="433.00" y1="239.60" x2="512.00" y2="239.60" stroke="#1b1b1b" stroke-width="0.7"/>
<text x="433.00" y="248.60" font-size="6.2" textLength="66.30" lengthAdjust="spacingAndGlyphs"><tspan font-style="italic">PLXNC1</tspan> <tspan font-size="1.35em">&lt;</tspan> median = 2.7</text>
<text x="433.00" y="258.50" font-size="6.2" textLength="66.30" lengthAdjust="spacingAndGlyphs"><tspan font-style="italic">PLXNC1</tspan> <tspan font-size="1.35em">&gt;</tspan> median = 1.6</text>
<line x1="313.90" y1="248.15" x2="420.30" y2="248.15" stroke="#c6c6c6" stroke-width="1"/>
<line x1="313.90" y1="210.00" x2="313.90" y2="283.00" stroke="#1a1a1a" stroke-width="1.5"/>
<line x1="313.90" y1="280.00" x2="420.80" y2="280.00" stroke="#1a1a1a" stroke-width="1.5"/>
<line x1="310.90" y1="216.30" x2="313.90" y2="216.30" stroke="#1a1a1a" stroke-width="1.1"/>
<text x="308.00" y="218.50" font-size="7.5" text-anchor="end" textLength="13.60" lengthAdjust="spacingAndGlyphs">100</text>
<line x1="310.90" y1="248.15" x2="313.90" y2="248.15" stroke="#1a1a1a" stroke-width="1.1"/>
<text x="308.00" y="250.35" font-size="7.5" text-anchor="end" textLength="8.90" lengthAdjust="spacingAndGlyphs">50</text>
<line x1="310.90" y1="280.00" x2="313.90" y2="280.00" stroke="#1a1a1a" stroke-width="1.1"/>
<text x="308.00" y="282.20" font-size="7.5" text-anchor="end" textLength="4.20" lengthAdjust="spacingAndGlyphs">0</text>
<line x1="313.90" y1="280.00" x2="313.90" y2="283.00" stroke="#1a1a1a" stroke-width="1.1"/>
<text x="313.90" y="292.20" font-size="7.5" text-anchor="middle" textLength="4.20" lengthAdjust="spacingAndGlyphs">0</text>
<line x1="367.10" y1="280.00" x2="367.10" y2="283.00" stroke="#1a1a1a" stroke-width="1.1"/>
<text x="367.10" y="292.20" font-size="7.5" text-anchor="middle" textLength="4.20" lengthAdjust="spacingAndGlyphs">5</text>
<line x1="420.30" y1="280.00" x2="420.30" y2="283.00" stroke="#1a1a1a" stroke-width="1.1"/>
<text x="420.30" y="292.20" font-size="7.5" text-anchor="middle" textLength="8.90" lengthAdjust="spacingAndGlyphs">10</text>
<text transform="translate(288.40,245.00) rotate(-90)" x="0" y="0" font-size="8.9" text-anchor="middle" style="stroke-width:0.2px" textLength="44.20" lengthAdjust="spacingAndGlyphs">Percent survival</text>
<text x="327.50" y="304.40" font-size="8.6" textLength="78.75" lengthAdjust="spacingAndGlyphs" style="stroke-width:0.25px">Overall survival time (years)</text>
<polyline points="314.38,216.92 315.19,218.31 318.08,218.65 319.23,221.54 320.38,226.15 320.96,230.77 321.54,233.65 322.69,237.69 323.85,241.15 326.15,241.73 327.88,244.61 329.61,248.08 331.35,250.96 332.50,252.11 334.81,252.69 335.96,253.84 337.11,255.58 338.85,258.46 340.58,259.84 353.84,259.84 354.42,261.34 355.58,261.92 359.61,261.92 360.77,263.07 362.50,265.38 363.65,269.42 417.70,269.42" fill="none" stroke="#c8102e" stroke-width="1.6" stroke-linejoin="round"/>
<polyline points="314.38,216.92 315.77,219.23 316.92,221.54 318.08,223.85 319.23,225.00 320.38,227.31 321.54,230.77 322.69,231.35 323.85,231.92 324.42,234.81 325.00,237.69 326.73,238.61 328.46,239.42 329.61,240.58 331.35,241.73 334.81,242.08 335.96,243.46 337.11,244.61 338.85,245.19 340.58,245.77 342.31,247.50 343.46,248.08 353.84,248.08 354.42,250.61 402.00,250.61" fill="none" stroke="#15407e" stroke-width="1.6" stroke-linejoin="round"/>
<text x="240.00" y="316.90" font-size="7.6" font-weight="bold" textLength="58.00" lengthAdjust="spacingAndGlyphs">Numbers at risk</text>
<line x1="240.00" y1="318.20" x2="298.00" y2="318.20" stroke="#1b1b1b" stroke-width="0.7"/>
<text x="240.00" y="326.90" font-size="7.2" textLength="62.50" lengthAdjust="spacingAndGlyphs"><tspan font-style="italic">PLXNC1</tspan> <tspan font-size="1.35em">&lt;</tspan> median</text>
<text x="318.30" y="326.90" font-size="7.6" text-anchor="end" textLength="9.00" lengthAdjust="spacingAndGlyphs">62</text>
<text x="372.50" y="326.90" font-size="7.6" text-anchor="end" textLength="9.00" lengthAdjust="spacingAndGlyphs">10</text>
<text x="423.20" y="326.90" font-size="7.6" text-anchor="end" textLength="4.50" lengthAdjust="spacingAndGlyphs">0</text>
<text x="240.00" y="334.80" font-size="7.2" textLength="62.50" lengthAdjust="spacingAndGlyphs"><tspan font-style="italic">PLXNC1</tspan> <tspan font-size="1.35em">&gt;</tspan> median</text>
<text x="318.30" y="334.80" font-size="7.6" text-anchor="end" textLength="9.00" lengthAdjust="spacingAndGlyphs">61</text>
<text x="372.50" y="334.80" font-size="7.6" text-anchor="end" textLength="4.50" lengthAdjust="spacingAndGlyphs">5</text>
<text x="423.20" y="334.80" font-size="7.6" text-anchor="end" textLength="4.50" lengthAdjust="spacingAndGlyphs">0</text>
<text x="8.85" y="500.00" font-size="10.6" font-weight="bold" fill="#000">G</text>
<text x="57.50" y="506.50" font-size="9" textLength="106.70" lengthAdjust="spacingAndGlyphs">Validation cohort (HOVON)</text>
<line x1="168.50" y1="518.80" x2="175.80" y2="518.80" stroke="#15407e" stroke-width="1.8"/>
<text x="178.60" y="521.30" font-size="7.2" textLength="48.20" lengthAdjust="spacingAndGlyphs"><tspan font-style="italic">IDO2</tspan> <tspan font-size="1.35em">&lt;</tspan> median</text>
<line x1="168.50" y1="528.30" x2="175.80" y2="528.30" stroke="#c8102e" stroke-width="1.8"/>
<text x="178.60" y="530.80" font-size="7.2" textLength="48.20" lengthAdjust="spacingAndGlyphs"><tspan font-style="italic">IDO2</tspan> <tspan font-size="1.35em">&gt;</tspan> median</text>
<text x="112.00" y="542.00" font-size="7.5" textLength="49.90" lengthAdjust="spacingAndGlyphs">X<tspan font-size="4.5" dy="-3">2</tspan><tspan dy="3">=4.7, </tspan><tspan font-style="italic">P</tspan>&lt;0.05</text>
<text x="168.50" y="544.40" font-size="6.2" font-weight="bold" textLength="78.50" lengthAdjust="spacingAndGlyphs">Median OS survival (years)</text>
<line x1="168.50" y1="545.70" x2="247.00" y2="545.70" stroke="#1b1b1b" stroke-width="0.7"/>
<text x="168.50" y="554.60" font-size="6.2"><tspan font-style="italic">IDO2</tspan> <tspan font-size="1.35em">&lt;</tspan> median = 1.9</text>
<text x="168.50" y="563.80" font-size="6.2"><tspan font-style="italic">IDO2</tspan> <tspan font-size="1.35em">&gt;</tspan> median = 1.3</text>
<line x1="58.60" y1="553.75" x2="163.80" y2="553.75" stroke="#c6c6c6" stroke-width="1"/>
<line x1="58.60" y1="515.50" x2="58.60" y2="588.50" stroke="#1a1a1a" stroke-width="1.5"/>
<line x1="58.60" y1="585.50" x2="164.30" y2="585.50" stroke="#1a1a1a" stroke-width="1.5"/>
<line x1="55.60" y1="522.00" x2="58.60" y2="522.00" stroke="#1a1a1a" stroke-width="1.1"/>
<text x="53.20" y="524.20" font-size="7.5" text-anchor="end" textLength="13.60" lengthAdjust="spacingAndGlyphs">100</text>
<line x1="55.60" y1="553.75" x2="58.60" y2="553.75" stroke="#1a1a1a" stroke-width="1.1"/>
<text x="53.20" y="555.95" font-size="7.5" text-anchor="end" textLength="8.90" lengthAdjust="spacingAndGlyphs">50</text>
<line x1="55.60" y1="585.50" x2="58.60" y2="585.50" stroke="#1a1a1a" stroke-width="1.1"/>
<text x="53.20" y="587.70" font-size="7.5" text-anchor="end" textLength="4.20" lengthAdjust="spacingAndGlyphs">0</text>
<line x1="58.60" y1="585.50" x2="58.60" y2="588.50" stroke="#1a1a1a" stroke-width="1.1"/>
<text x="58.60" y="597.50" font-size="7.5" text-anchor="middle" textLength="4.20" lengthAdjust="spacingAndGlyphs">0</text>
<line x1="84.90" y1="585.50" x2="84.90" y2="588.50" stroke="#1a1a1a" stroke-width="1.1"/>
<text x="84.90" y="597.50" font-size="7.5" text-anchor="middle" textLength="4.20" lengthAdjust="spacingAndGlyphs">5</text>
<line x1="111.20" y1="585.50" x2="111.20" y2="588.50" stroke="#1a1a1a" stroke-width="1.1"/>
<text x="111.20" y="597.50" font-size="7.5" text-anchor="middle" textLength="8.90" lengthAdjust="spacingAndGlyphs">10</text>
<line x1="137.50" y1="585.50" x2="137.50" y2="588.50" stroke="#1a1a1a" stroke-width="1.1"/>
<text x="137.50" y="597.50" font-size="7.5" text-anchor="middle" textLength="8.90" lengthAdjust="spacingAndGlyphs">15</text>
<line x1="163.80" y1="585.50" x2="163.80" y2="588.50" stroke="#1a1a1a" stroke-width="1.1"/>
<text x="163.80" y="597.50" font-size="7.5" text-anchor="middle" textLength="8.90" lengthAdjust="spacingAndGlyphs">20</text>
<text transform="translate(34.20,550.80) rotate(-90)" x="0" y="0" font-size="8.9" text-anchor="middle" style="stroke-width:0.2px" textLength="44.20" lengthAdjust="spacingAndGlyphs">Percent survival</text>
<text x="72.00" y="609.70" font-size="8.6" textLength="78.40" lengthAdjust="spacingAndGlyphs" style="stroke-width:0.25px">Overall survival time (years)</text>
<polyline points="58.81,525.61 59.62,532.31 61.35,540.38 63.08,547.31 64.81,554.23 66.54,557.69 68.27,560.00 71.15,561.15 74.61,562.88 78.08,564.04 82.69,564.84 88.46,565.77 94.23,566.69 98.84,566.92 115.00,566.92 95.00,566.80 144.00,567.20" fill="none" stroke="#c8102e" stroke-width="1.6" stroke-linejoin="round"/>
<polyline points="58.81,522.15 60.19,528.85 61.92,535.77 63.65,542.69 65.38,548.46 67.11,552.50 69.42,555.38 72.31,557.46 75.77,558.61 80.38,559.19 85.00,560.00 89.61,560.58 98.84,561.15 105.77,561.73 108.07,562.08 115.00,562.08 122.60,562.20 122.70,564.10 157.00,564.10" fill="none" stroke="#15407e" stroke-width="1.6" stroke-linejoin="round"/>
<text x="3.50" y="620.60" font-size="7.6" font-weight="bold" textLength="49.00" lengthAdjust="spacingAndGlyphs">Numbers at risk</text>
<line x1="3.50" y1="621.90" x2="52.50" y2="621.90" stroke="#1b1b1b" stroke-width="0.7"/>
<text x="4.00" y="630.80" font-size="7.2" textLength="44.00" lengthAdjust="spacingAndGlyphs"><tspan font-style="italic">IDO2</tspan> <tspan font-size="1.35em">&lt;</tspan> median</text>
<text x="70.00" y="630.80" font-size="7.6" text-anchor="end" textLength="13.50" lengthAdjust="spacingAndGlyphs">286</text>
<text x="92.00" y="630.80" font-size="7.6" text-anchor="end" textLength="13.50" lengthAdjust="spacingAndGlyphs">109</text>
<text x="117.00" y="630.80" font-size="7.6" text-anchor="end" textLength="9.00" lengthAdjust="spacingAndGlyphs">49</text>
<text x="141.30" y="630.80" font-size="7.6" text-anchor="end" textLength="4.50" lengthAdjust="spacingAndGlyphs">7</text>
<text x="168.00" y="630.80" font-size="7.6" text-anchor="end" textLength="4.50" lengthAdjust="spacingAndGlyphs">0</text>
<text x="4.00" y="638.80" font-size="7.2" textLength="44.00" lengthAdjust="spacingAndGlyphs"><tspan font-style="italic">IDO2</tspan> <tspan font-size="1.35em">&gt;</tspan> median</text>
<text x="70.00" y="638.80" font-size="7.6" text-anchor="end" textLength="13.50" lengthAdjust="spacingAndGlyphs">286</text>
<text x="92.00" y="638.80" font-size="7.6" text-anchor="end" textLength="9.00" lengthAdjust="spacingAndGlyphs">80</text>
<text x="117.00" y="638.80" font-size="7.6" text-anchor="end" textLength="9.00" lengthAdjust="spacingAndGlyphs">33</text>
<text x="141.30" y="638.80" font-size="7.6" text-anchor="end" textLength="4.50" lengthAdjust="spacingAndGlyphs">3</text>
<text x="168.00" y="638.80" font-size="7.6" text-anchor="end" textLength="4.50" lengthAdjust="spacingAndGlyphs">0</text>
<text x="265.85" y="499.60" font-size="10.6" font-weight="bold" fill="#000">H</text>
<text x="313.00" y="506.50" font-size="9" textLength="107.50" lengthAdjust="spacingAndGlyphs">Validation cohort (HOVON)</text>
<line x1="432.90" y1="518.80" x2="440.20" y2="518.80" stroke="#15407e" stroke-width="1.8"/>
<text x="443.00" y="521.30" font-size="7.2" textLength="59.10" lengthAdjust="spacingAndGlyphs"><tspan font-style="italic">PLXNC1</tspan> <tspan font-size="1.35em">&lt;</tspan> median</text>
<line x1="432.90" y1="528.30" x2="440.20" y2="528.30" stroke="#c8102e" stroke-width="1.8"/>
<text x="443.00" y="530.80" font-size="7.2" textLength="59.10" lengthAdjust="spacingAndGlyphs"><tspan font-style="italic">PLXNC1</tspan> <tspan font-size="1.35em">&gt;</tspan> median</text>
<text x="359.50" y="542.00" font-size="7.5" textLength="56.60" lengthAdjust="spacingAndGlyphs">X<tspan font-size="4.5" dy="-3">2</tspan><tspan dy="3">=11.7, </tspan><tspan font-style="italic">P</tspan>&lt;0.001</text>
<text x="432.90" y="544.40" font-size="6.2" font-weight="bold" textLength="78.40" lengthAdjust="spacingAndGlyphs">Median OS survival (years)</text>
<line x1="432.90" y1="545.70" x2="511.30" y2="545.70" stroke="#1b1b1b" stroke-width="0.7"/>
<text x="432.90" y="554.60" font-size="6.2" textLength="66.10" lengthAdjust="spacingAndGlyphs"><tspan font-style="italic">PLXNC1</tspan> <tspan font-size="1.35em">&lt;</tspan> median = 2.5</text>
<text x="432.90" y="563.80" font-size="6.2" textLength="66.10" lengthAdjust="spacingAndGlyphs"><tspan font-style="italic">PLXNC1</tspan> <tspan font-size="1.35em">&gt;</tspan> median = 1.2</text>
<line x1="313.90" y1="553.75" x2="419.30" y2="553.75" stroke="#c6c6c6" stroke-width="1"/>
<line x1="313.90" y1="515.50" x2="313.90" y2="588.50" stroke="#1a1a1a" stroke-width="1.5"/>
<line x1="313.90" y1="585.50" x2="419.80" y2="585.50" stroke="#1a1a1a" stroke-width="1.5"/>
<line x1="310.90" y1="522.00" x2="313.90" y2="522.00" stroke="#1a1a1a" stroke-width="1.1"/>
<text x="308.00" y="524.20" font-size="7.5" text-anchor="end" textLength="13.60" lengthAdjust="spacingAndGlyphs">100</text>
<line x1="310.90" y1="553.75" x2="313.90" y2="553.75" stroke="#1a1a1a" stroke-width="1.1"/>
<text x="308.00" y="555.95" font-size="7.5" text-anchor="end" textLength="8.90" lengthAdjust="spacingAndGlyphs">50</text>
<line x1="310.90" y1="585.50" x2="313.90" y2="585.50" stroke="#1a1a1a" stroke-width="1.1"/>
<text x="308.00" y="587.70" font-size="7.5" text-anchor="end" textLength="4.20" lengthAdjust="spacingAndGlyphs">0</text>
<line x1="313.90" y1="585.50" x2="313.90" y2="588.50" stroke="#1a1a1a" stroke-width="1.1"/>
<text x="313.90" y="597.50" font-size="7.5" text-anchor="middle" textLength="4.20" lengthAdjust="spacingAndGlyphs">0</text>
<line x1="340.25" y1="585.50" x2="340.25" y2="588.50" stroke="#1a1a1a" stroke-width="1.1"/>
<text x="340.25" y="597.50" font-size="7.5" text-anchor="middle" textLength="4.20" lengthAdjust="spacingAndGlyphs">5</text>
<line x1="366.60" y1="585.50" x2="366.60" y2="588.50" stroke="#1a1a1a" stroke-width="1.1"/>
<text x="366.60" y="597.50" font-size="7.5" text-anchor="middle" textLength="8.90" lengthAdjust="spacingAndGlyphs">10</text>
<line x1="392.95" y1="585.50" x2="392.95" y2="588.50" stroke="#1a1a1a" stroke-width="1.1"/>
<text x="392.95" y="597.50" font-size="7.5" text-anchor="middle" textLength="8.90" lengthAdjust="spacingAndGlyphs">15</text>
<line x1="419.30" y1="585.50" x2="419.30" y2="588.50" stroke="#1a1a1a" stroke-width="1.1"/>
<text x="419.30" y="597.50" font-size="7.5" text-anchor="middle" textLength="8.90" lengthAdjust="spacingAndGlyphs">20</text>
<text transform="translate(289.60,551.00) rotate(-90)" x="0" y="0" font-size="8.9" text-anchor="middle" style="stroke-width:0.2px" textLength="44.20" lengthAdjust="spacingAndGlyphs">Percent survival</text>
<text x="327.20" y="609.90" font-size="8.6" textLength="78.90" lengthAdjust="spacingAndGlyphs" style="stroke-width:0.25px">Overall survival time (years)</text>
<polyline points="314.38,525.61 315.77,533.46 317.50,542.69 319.23,550.77 321.54,557.69 323.85,561.73 326.15,563.46 330.77,564.61 335.38,565.77 340.00,566.69 344.61,567.50 349.23,567.84 370.00,567.84 377.70,567.80 377.70,569.70 408.40,569.80" fill="none" stroke="#c8102e" stroke-width="1.6" stroke-linejoin="round"/>
<polyline points="314.38,522.15 315.77,527.69 317.50,534.61 319.23,541.54 321.54,547.88 323.85,551.92 327.31,554.81 330.77,556.54 335.38,557.46 340.00,557.92 344.61,558.61 350.38,559.42 356.15,560.23 360.77,560.92 370.00,561.15 360.00,560.50 375.00,562.00 412.70,562.00" fill="none" stroke="#15407e" stroke-width="1.6" stroke-linejoin="round"/>
<text x="240.10" y="620.50" font-size="7.6" font-weight="bold" textLength="58.30" lengthAdjust="spacingAndGlyphs">Numbers at risk</text>
<line x1="240.10" y1="621.80" x2="298.40" y2="621.80" stroke="#1b1b1b" stroke-width="0.7"/>
<text x="240.00" y="630.80" font-size="7.2" textLength="62.50" lengthAdjust="spacingAndGlyphs"><tspan font-style="italic">PLXNC1</tspan> <tspan font-size="1.35em">&lt;</tspan> median</text>
<text x="322.30" y="630.80" font-size="7.6" text-anchor="end" textLength="13.50" lengthAdjust="spacingAndGlyphs">286</text>
<text x="348.30" y="630.80" font-size="7.6" text-anchor="end" textLength="13.50" lengthAdjust="spacingAndGlyphs">107</text>
<text x="373.60" y="630.80" font-size="7.6" text-anchor="end" textLength="9.00" lengthAdjust="spacingAndGlyphs">50</text>
<text x="397.60" y="630.80" font-size="7.6" text-anchor="end" textLength="4.50" lengthAdjust="spacingAndGlyphs">7</text>
<text x="423.50" y="630.80" font-size="7.6" text-anchor="end" textLength="4.50" lengthAdjust="spacingAndGlyphs">0</text>
<text x="240.00" y="638.80" font-size="7.2" textLength="62.50" lengthAdjust="spacingAndGlyphs"><tspan font-style="italic">PLXNC1</tspan> <tspan font-size="1.35em">&gt;</tspan> median</text>
<text x="322.30" y="638.80" font-size="7.6" text-anchor="end" textLength="13.50" lengthAdjust="spacingAndGlyphs">286</text>
<text x="348.30" y="638.80" font-size="7.6" text-anchor="end" textLength="9.00" lengthAdjust="spacingAndGlyphs">82</text>
<text x="373.60" y="638.80" font-size="7.6" text-anchor="end" textLength="9.00" lengthAdjust="spacingAndGlyphs">32</text>
<text x="397.60" y="638.80" font-size="7.6" text-anchor="end" textLength="4.50" lengthAdjust="spacingAndGlyphs">3</text>
<text x="423.50" y="638.80" font-size="7.6" text-anchor="end" textLength="4.50" lengthAdjust="spacingAndGlyphs">0</text>
</svg>
</body></html>
